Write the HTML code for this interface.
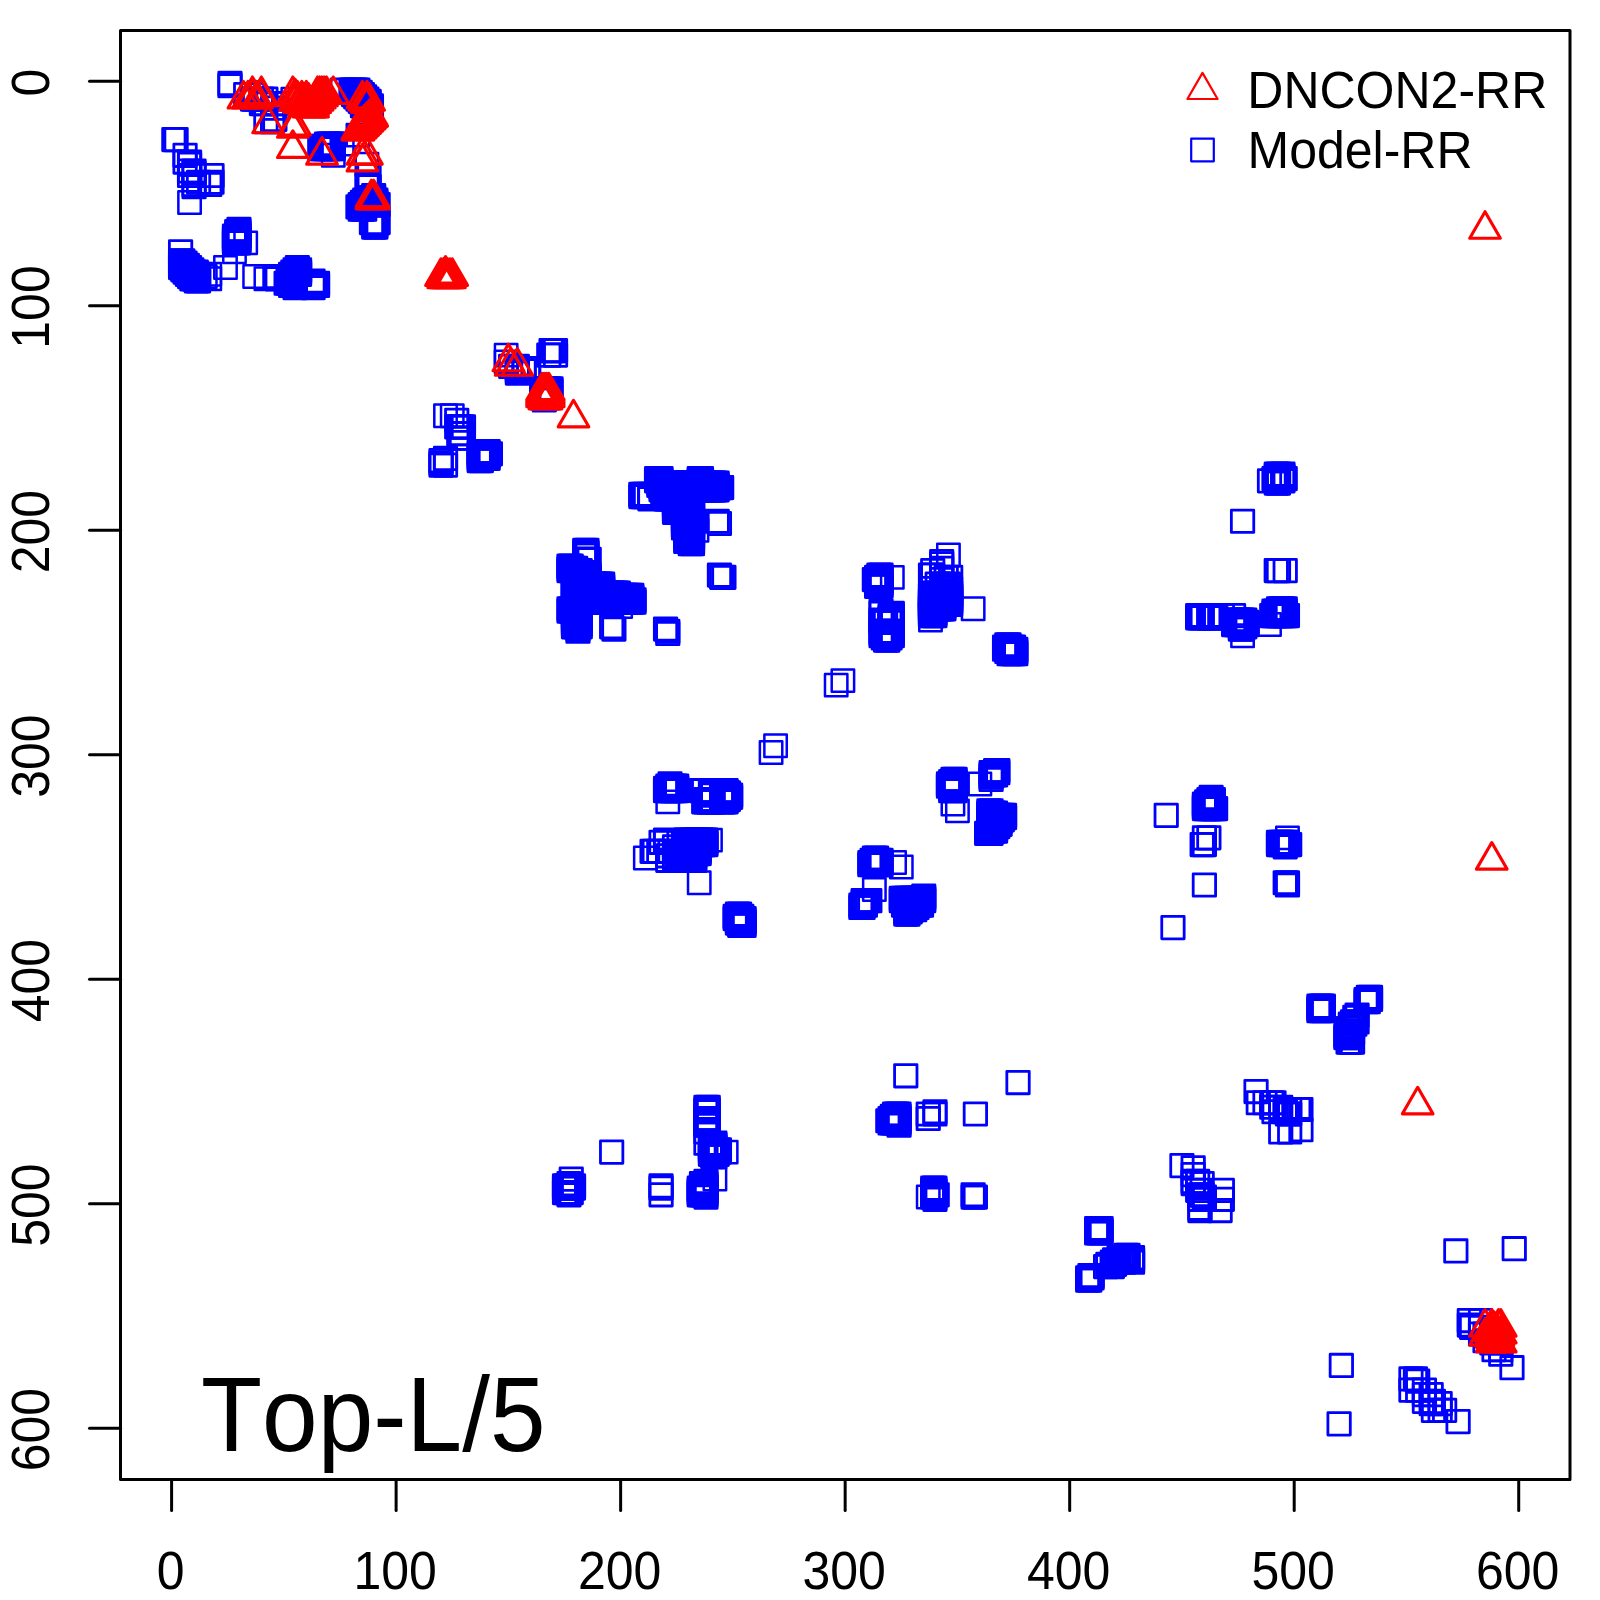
<!DOCTYPE html>
<html><head><meta charset="utf-8"><title>Top-L/5</title>
<style>
html,body{margin:0;padding:0;background:#fff;}
svg{display:block}
text{font-family:"Liberation Sans",sans-serif;fill:#000;font-kerning:none;font-size:50px}
.sq rect{fill:none;stroke:#0000ff;stroke-width:2.8;stroke-linejoin:round}
.sq.tn rect{stroke-width:2.5}
.tr path{fill:none;stroke:#ff0000;stroke-width:3.1;stroke-linejoin:round}
.tr.tk path{stroke-width:4.6}
.ax{stroke:#000;stroke-width:3;fill:none;stroke-linecap:round}
</style></head><body>
<svg width="1600" height="1600" viewBox="0 0 1600 1600">
<rect x="0" y="0" width="1600" height="1600" fill="#ffffff"/>

<g class="sq">
<rect x="162.65" y="128.38" width="22.4" height="22.4"/>
<rect x="164.89" y="128.38" width="22.4" height="22.4"/>
<rect x="169.38" y="240.64" width="22.4" height="22.4"/>
<rect x="169.38" y="249.62" width="22.4" height="22.4"/>
<rect x="169.38" y="251.86" width="22.4" height="22.4"/>
<rect x="169.38" y="254.11" width="22.4" height="22.4"/>
<rect x="169.38" y="256.35" width="22.4" height="22.4"/>
<rect x="171.63" y="249.62" width="22.4" height="22.4"/>
<rect x="171.63" y="251.86" width="22.4" height="22.4"/>
<rect x="171.63" y="254.11" width="22.4" height="22.4"/>
<rect x="171.63" y="256.35" width="22.4" height="22.4"/>
<rect x="171.63" y="258.60" width="22.4" height="22.4"/>
<rect x="173.87" y="144.09" width="22.4" height="22.4"/>
<rect x="173.87" y="150.83" width="22.4" height="22.4"/>
<rect x="173.87" y="251.86" width="22.4" height="22.4"/>
<rect x="173.87" y="254.11" width="22.4" height="22.4"/>
<rect x="173.87" y="256.35" width="22.4" height="22.4"/>
<rect x="173.87" y="258.60" width="22.4" height="22.4"/>
<rect x="173.87" y="260.84" width="22.4" height="22.4"/>
<rect x="176.12" y="254.11" width="22.4" height="22.4"/>
<rect x="176.12" y="256.35" width="22.4" height="22.4"/>
<rect x="176.12" y="258.60" width="22.4" height="22.4"/>
<rect x="176.12" y="260.84" width="22.4" height="22.4"/>
<rect x="176.12" y="263.09" width="22.4" height="22.4"/>
<rect x="178.36" y="150.83" width="22.4" height="22.4"/>
<rect x="178.36" y="153.07" width="22.4" height="22.4"/>
<rect x="178.36" y="159.81" width="22.4" height="22.4"/>
<rect x="178.36" y="164.30" width="22.4" height="22.4"/>
<rect x="178.36" y="256.35" width="22.4" height="22.4"/>
<rect x="178.36" y="258.60" width="22.4" height="22.4"/>
<rect x="178.36" y="260.84" width="22.4" height="22.4"/>
<rect x="178.36" y="263.09" width="22.4" height="22.4"/>
<rect x="178.36" y="265.33" width="22.4" height="22.4"/>
<rect x="180.61" y="258.60" width="22.4" height="22.4"/>
<rect x="180.61" y="260.84" width="22.4" height="22.4"/>
<rect x="180.61" y="263.09" width="22.4" height="22.4"/>
<rect x="180.61" y="265.33" width="22.4" height="22.4"/>
<rect x="180.61" y="267.58" width="22.4" height="22.4"/>
<rect x="182.85" y="159.81" width="22.4" height="22.4"/>
<rect x="182.85" y="162.05" width="22.4" height="22.4"/>
<rect x="182.85" y="173.28" width="22.4" height="22.4"/>
<rect x="182.85" y="175.52" width="22.4" height="22.4"/>
<rect x="182.85" y="260.84" width="22.4" height="22.4"/>
<rect x="182.85" y="263.09" width="22.4" height="22.4"/>
<rect x="182.85" y="265.33" width="22.4" height="22.4"/>
<rect x="182.85" y="267.58" width="22.4" height="22.4"/>
<rect x="185.10" y="260.84" width="22.4" height="22.4"/>
<rect x="185.10" y="263.09" width="22.4" height="22.4"/>
<rect x="185.10" y="265.33" width="22.4" height="22.4"/>
<rect x="185.10" y="267.58" width="22.4" height="22.4"/>
<rect x="185.10" y="269.82" width="22.4" height="22.4"/>
<rect x="187.34" y="171.03" width="22.4" height="22.4"/>
<rect x="187.34" y="263.09" width="22.4" height="22.4"/>
<rect x="187.34" y="265.33" width="22.4" height="22.4"/>
<rect x="187.34" y="267.58" width="22.4" height="22.4"/>
<rect x="187.34" y="269.82" width="22.4" height="22.4"/>
<rect x="198.57" y="173.28" width="22.4" height="22.4"/>
<rect x="200.81" y="164.30" width="22.4" height="22.4"/>
<rect x="200.81" y="171.03" width="22.4" height="22.4"/>
<rect x="218.78" y="72.25" width="22.4" height="22.4"/>
<rect x="218.78" y="74.49" width="22.4" height="22.4"/>
<rect x="223.27" y="224.92" width="22.4" height="22.4"/>
<rect x="223.27" y="227.16" width="22.4" height="22.4"/>
<rect x="223.27" y="229.41" width="22.4" height="22.4"/>
<rect x="223.27" y="231.65" width="22.4" height="22.4"/>
<rect x="225.51" y="220.43" width="22.4" height="22.4"/>
<rect x="225.51" y="222.67" width="22.4" height="22.4"/>
<rect x="225.51" y="224.92" width="22.4" height="22.4"/>
<rect x="225.51" y="227.16" width="22.4" height="22.4"/>
<rect x="225.51" y="229.41" width="22.4" height="22.4"/>
<rect x="225.51" y="231.65" width="22.4" height="22.4"/>
<rect x="227.76" y="218.18" width="22.4" height="22.4"/>
<rect x="227.76" y="220.43" width="22.4" height="22.4"/>
<rect x="227.76" y="222.67" width="22.4" height="22.4"/>
<rect x="227.76" y="224.92" width="22.4" height="22.4"/>
<rect x="227.76" y="227.16" width="22.4" height="22.4"/>
<rect x="227.76" y="229.41" width="22.4" height="22.4"/>
<rect x="227.76" y="231.65" width="22.4" height="22.4"/>
<rect x="234.49" y="83.47" width="22.4" height="22.4"/>
<rect x="241.23" y="83.47" width="22.4" height="22.4"/>
<rect x="241.23" y="87.96" width="22.4" height="22.4"/>
<rect x="243.47" y="87.96" width="22.4" height="22.4"/>
<rect x="250.21" y="87.96" width="22.4" height="22.4"/>
<rect x="250.21" y="92.45" width="22.4" height="22.4"/>
<rect x="252.45" y="92.45" width="22.4" height="22.4"/>
<rect x="254.70" y="87.96" width="22.4" height="22.4"/>
<rect x="254.70" y="110.41" width="22.4" height="22.4"/>
<rect x="261.43" y="96.94" width="22.4" height="22.4"/>
<rect x="261.43" y="110.41" width="22.4" height="22.4"/>
<rect x="263.68" y="92.45" width="22.4" height="22.4"/>
<rect x="263.68" y="108.17" width="22.4" height="22.4"/>
<rect x="263.68" y="265.33" width="22.4" height="22.4"/>
<rect x="265.92" y="92.45" width="22.4" height="22.4"/>
<rect x="265.92" y="267.58" width="22.4" height="22.4"/>
<rect x="274.91" y="272.07" width="22.4" height="22.4"/>
<rect x="277.15" y="267.58" width="22.4" height="22.4"/>
<rect x="277.15" y="269.82" width="22.4" height="22.4"/>
<rect x="277.15" y="272.07" width="22.4" height="22.4"/>
<rect x="279.40" y="263.09" width="22.4" height="22.4"/>
<rect x="279.40" y="265.33" width="22.4" height="22.4"/>
<rect x="279.40" y="267.58" width="22.4" height="22.4"/>
<rect x="279.40" y="269.82" width="22.4" height="22.4"/>
<rect x="279.40" y="272.07" width="22.4" height="22.4"/>
<rect x="279.40" y="274.31" width="22.4" height="22.4"/>
<rect x="281.64" y="260.84" width="22.4" height="22.4"/>
<rect x="281.64" y="263.09" width="22.4" height="22.4"/>
<rect x="281.64" y="265.33" width="22.4" height="22.4"/>
<rect x="281.64" y="267.58" width="22.4" height="22.4"/>
<rect x="281.64" y="269.82" width="22.4" height="22.4"/>
<rect x="281.64" y="272.07" width="22.4" height="22.4"/>
<rect x="281.64" y="274.31" width="22.4" height="22.4"/>
<rect x="283.89" y="258.60" width="22.4" height="22.4"/>
<rect x="283.89" y="260.84" width="22.4" height="22.4"/>
<rect x="283.89" y="263.09" width="22.4" height="22.4"/>
<rect x="283.89" y="265.33" width="22.4" height="22.4"/>
<rect x="283.89" y="267.58" width="22.4" height="22.4"/>
<rect x="283.89" y="269.82" width="22.4" height="22.4"/>
<rect x="283.89" y="272.07" width="22.4" height="22.4"/>
<rect x="283.89" y="274.31" width="22.4" height="22.4"/>
<rect x="283.89" y="276.56" width="22.4" height="22.4"/>
<rect x="286.13" y="256.35" width="22.4" height="22.4"/>
<rect x="286.13" y="258.60" width="22.4" height="22.4"/>
<rect x="286.13" y="260.84" width="22.4" height="22.4"/>
<rect x="288.38" y="258.60" width="22.4" height="22.4"/>
<rect x="288.38" y="260.84" width="22.4" height="22.4"/>
<rect x="288.38" y="263.09" width="22.4" height="22.4"/>
<rect x="301.85" y="269.82" width="22.4" height="22.4"/>
<rect x="301.85" y="276.56" width="22.4" height="22.4"/>
<rect x="304.09" y="274.31" width="22.4" height="22.4"/>
<rect x="306.34" y="272.07" width="22.4" height="22.4"/>
<rect x="306.34" y="274.31" width="22.4" height="22.4"/>
<rect x="308.58" y="137.36" width="22.4" height="22.4"/>
<rect x="310.83" y="135.11" width="22.4" height="22.4"/>
<rect x="310.83" y="137.36" width="22.4" height="22.4"/>
<rect x="313.07" y="135.11" width="22.4" height="22.4"/>
<rect x="313.07" y="137.36" width="22.4" height="22.4"/>
<rect x="315.32" y="132.87" width="22.4" height="22.4"/>
<rect x="315.32" y="135.11" width="22.4" height="22.4"/>
<rect x="315.32" y="137.36" width="22.4" height="22.4"/>
<rect x="317.56" y="132.87" width="22.4" height="22.4"/>
<rect x="317.56" y="135.11" width="22.4" height="22.4"/>
<rect x="317.56" y="137.36" width="22.4" height="22.4"/>
<rect x="319.81" y="132.87" width="22.4" height="22.4"/>
<rect x="319.81" y="135.11" width="22.4" height="22.4"/>
<rect x="319.81" y="137.36" width="22.4" height="22.4"/>
<rect x="322.05" y="132.87" width="22.4" height="22.4"/>
<rect x="322.05" y="135.11" width="22.4" height="22.4"/>
<rect x="322.05" y="137.36" width="22.4" height="22.4"/>
<rect x="331.04" y="78.98" width="22.4" height="22.4"/>
<rect x="340.02" y="78.98" width="22.4" height="22.4"/>
<rect x="340.02" y="81.23" width="22.4" height="22.4"/>
<rect x="342.26" y="78.98" width="22.4" height="22.4"/>
<rect x="342.26" y="81.23" width="22.4" height="22.4"/>
<rect x="342.26" y="83.47" width="22.4" height="22.4"/>
<rect x="344.51" y="78.98" width="22.4" height="22.4"/>
<rect x="344.51" y="81.23" width="22.4" height="22.4"/>
<rect x="344.51" y="83.47" width="22.4" height="22.4"/>
<rect x="344.51" y="85.72" width="22.4" height="22.4"/>
<rect x="346.75" y="78.98" width="22.4" height="22.4"/>
<rect x="346.75" y="81.23" width="22.4" height="22.4"/>
<rect x="346.75" y="83.47" width="22.4" height="22.4"/>
<rect x="346.75" y="85.72" width="22.4" height="22.4"/>
<rect x="346.75" y="87.96" width="22.4" height="22.4"/>
<rect x="346.75" y="195.73" width="22.4" height="22.4"/>
<rect x="349.00" y="81.23" width="22.4" height="22.4"/>
<rect x="349.00" y="83.47" width="22.4" height="22.4"/>
<rect x="349.00" y="85.72" width="22.4" height="22.4"/>
<rect x="349.00" y="87.96" width="22.4" height="22.4"/>
<rect x="349.00" y="90.21" width="22.4" height="22.4"/>
<rect x="349.00" y="193.49" width="22.4" height="22.4"/>
<rect x="349.00" y="195.73" width="22.4" height="22.4"/>
<rect x="349.00" y="197.98" width="22.4" height="22.4"/>
<rect x="351.24" y="83.47" width="22.4" height="22.4"/>
<rect x="351.24" y="85.72" width="22.4" height="22.4"/>
<rect x="351.24" y="87.96" width="22.4" height="22.4"/>
<rect x="351.24" y="90.21" width="22.4" height="22.4"/>
<rect x="351.24" y="92.45" width="22.4" height="22.4"/>
<rect x="351.24" y="94.70" width="22.4" height="22.4"/>
<rect x="351.24" y="191.24" width="22.4" height="22.4"/>
<rect x="351.24" y="193.49" width="22.4" height="22.4"/>
<rect x="351.24" y="195.73" width="22.4" height="22.4"/>
<rect x="351.24" y="197.98" width="22.4" height="22.4"/>
<rect x="353.49" y="85.72" width="22.4" height="22.4"/>
<rect x="353.49" y="87.96" width="22.4" height="22.4"/>
<rect x="353.49" y="90.21" width="22.4" height="22.4"/>
<rect x="353.49" y="92.45" width="22.4" height="22.4"/>
<rect x="353.49" y="94.70" width="22.4" height="22.4"/>
<rect x="353.49" y="96.94" width="22.4" height="22.4"/>
<rect x="353.49" y="189.00" width="22.4" height="22.4"/>
<rect x="353.49" y="191.24" width="22.4" height="22.4"/>
<rect x="353.49" y="193.49" width="22.4" height="22.4"/>
<rect x="353.49" y="197.98" width="22.4" height="22.4"/>
<rect x="355.73" y="87.96" width="22.4" height="22.4"/>
<rect x="355.73" y="90.21" width="22.4" height="22.4"/>
<rect x="355.73" y="92.45" width="22.4" height="22.4"/>
<rect x="355.73" y="94.70" width="22.4" height="22.4"/>
<rect x="355.73" y="96.94" width="22.4" height="22.4"/>
<rect x="355.73" y="173.28" width="22.4" height="22.4"/>
<rect x="355.73" y="189.00" width="22.4" height="22.4"/>
<rect x="355.73" y="191.24" width="22.4" height="22.4"/>
<rect x="355.73" y="193.49" width="22.4" height="22.4"/>
<rect x="357.98" y="90.21" width="22.4" height="22.4"/>
<rect x="357.98" y="92.45" width="22.4" height="22.4"/>
<rect x="357.98" y="94.70" width="22.4" height="22.4"/>
<rect x="357.98" y="96.94" width="22.4" height="22.4"/>
<rect x="357.98" y="175.52" width="22.4" height="22.4"/>
<rect x="357.98" y="186.75" width="22.4" height="22.4"/>
<rect x="357.98" y="189.00" width="22.4" height="22.4"/>
<rect x="357.98" y="191.24" width="22.4" height="22.4"/>
<rect x="357.98" y="193.49" width="22.4" height="22.4"/>
<rect x="360.22" y="94.70" width="22.4" height="22.4"/>
<rect x="360.22" y="96.94" width="22.4" height="22.4"/>
<rect x="360.22" y="186.75" width="22.4" height="22.4"/>
<rect x="360.22" y="189.00" width="22.4" height="22.4"/>
<rect x="360.22" y="191.24" width="22.4" height="22.4"/>
<rect x="360.22" y="193.49" width="22.4" height="22.4"/>
<rect x="360.22" y="211.45" width="22.4" height="22.4"/>
<rect x="362.47" y="184.51" width="22.4" height="22.4"/>
<rect x="362.47" y="186.75" width="22.4" height="22.4"/>
<rect x="362.47" y="189.00" width="22.4" height="22.4"/>
<rect x="362.47" y="191.24" width="22.4" height="22.4"/>
<rect x="362.47" y="193.49" width="22.4" height="22.4"/>
<rect x="362.47" y="215.94" width="22.4" height="22.4"/>
<rect x="364.71" y="189.00" width="22.4" height="22.4"/>
<rect x="364.71" y="191.24" width="22.4" height="22.4"/>
<rect x="364.71" y="193.49" width="22.4" height="22.4"/>
<rect x="364.71" y="213.69" width="22.4" height="22.4"/>
<rect x="364.71" y="215.94" width="22.4" height="22.4"/>
<rect x="366.96" y="193.49" width="22.4" height="22.4"/>
<rect x="366.96" y="211.45" width="22.4" height="22.4"/>
<rect x="429.82" y="449.44" width="22.4" height="22.4"/>
<rect x="429.82" y="451.68" width="22.4" height="22.4"/>
<rect x="429.82" y="453.93" width="22.4" height="22.4"/>
<rect x="434.31" y="447.19" width="22.4" height="22.4"/>
<rect x="434.31" y="453.93" width="22.4" height="22.4"/>
<rect x="445.54" y="409.03" width="22.4" height="22.4"/>
<rect x="445.54" y="415.76" width="22.4" height="22.4"/>
<rect x="447.79" y="415.76" width="22.4" height="22.4"/>
<rect x="447.79" y="422.50" width="22.4" height="22.4"/>
<rect x="447.79" y="426.99" width="22.4" height="22.4"/>
<rect x="450.03" y="415.76" width="22.4" height="22.4"/>
<rect x="450.03" y="422.50" width="22.4" height="22.4"/>
<rect x="450.03" y="426.99" width="22.4" height="22.4"/>
<rect x="452.28" y="415.76" width="22.4" height="22.4"/>
<rect x="467.99" y="440.46" width="22.4" height="22.4"/>
<rect x="467.99" y="442.70" width="22.4" height="22.4"/>
<rect x="467.99" y="444.95" width="22.4" height="22.4"/>
<rect x="467.99" y="447.19" width="22.4" height="22.4"/>
<rect x="467.99" y="449.44" width="22.4" height="22.4"/>
<rect x="470.24" y="440.46" width="22.4" height="22.4"/>
<rect x="470.24" y="442.70" width="22.4" height="22.4"/>
<rect x="470.24" y="444.95" width="22.4" height="22.4"/>
<rect x="470.24" y="447.19" width="22.4" height="22.4"/>
<rect x="470.24" y="449.44" width="22.4" height="22.4"/>
<rect x="472.48" y="440.46" width="22.4" height="22.4"/>
<rect x="472.48" y="442.70" width="22.4" height="22.4"/>
<rect x="472.48" y="444.95" width="22.4" height="22.4"/>
<rect x="472.48" y="447.19" width="22.4" height="22.4"/>
<rect x="474.73" y="440.46" width="22.4" height="22.4"/>
<rect x="474.73" y="442.70" width="22.4" height="22.4"/>
<rect x="474.73" y="444.95" width="22.4" height="22.4"/>
<rect x="474.73" y="447.19" width="22.4" height="22.4"/>
<rect x="476.97" y="440.46" width="22.4" height="22.4"/>
<rect x="476.97" y="442.70" width="22.4" height="22.4"/>
<rect x="476.97" y="444.95" width="22.4" height="22.4"/>
<rect x="476.97" y="447.19" width="22.4" height="22.4"/>
<rect x="479.22" y="442.70" width="22.4" height="22.4"/>
<rect x="499.43" y="355.14" width="22.4" height="22.4"/>
<rect x="506.16" y="355.14" width="22.4" height="22.4"/>
<rect x="506.16" y="357.39" width="22.4" height="22.4"/>
<rect x="506.16" y="359.63" width="22.4" height="22.4"/>
<rect x="506.16" y="361.88" width="22.4" height="22.4"/>
<rect x="512.90" y="357.39" width="22.4" height="22.4"/>
<rect x="512.90" y="359.63" width="22.4" height="22.4"/>
<rect x="517.39" y="357.39" width="22.4" height="22.4"/>
<rect x="517.39" y="359.63" width="22.4" height="22.4"/>
<rect x="530.86" y="377.59" width="22.4" height="22.4"/>
<rect x="530.86" y="379.84" width="22.4" height="22.4"/>
<rect x="530.86" y="382.08" width="22.4" height="22.4"/>
<rect x="530.86" y="384.33" width="22.4" height="22.4"/>
<rect x="530.86" y="386.57" width="22.4" height="22.4"/>
<rect x="533.10" y="377.59" width="22.4" height="22.4"/>
<rect x="533.10" y="379.84" width="22.4" height="22.4"/>
<rect x="533.10" y="382.08" width="22.4" height="22.4"/>
<rect x="533.10" y="384.33" width="22.4" height="22.4"/>
<rect x="533.10" y="386.57" width="22.4" height="22.4"/>
<rect x="533.10" y="388.82" width="22.4" height="22.4"/>
<rect x="535.35" y="377.59" width="22.4" height="22.4"/>
<rect x="535.35" y="379.84" width="22.4" height="22.4"/>
<rect x="535.35" y="382.08" width="22.4" height="22.4"/>
<rect x="535.35" y="384.33" width="22.4" height="22.4"/>
<rect x="535.35" y="386.57" width="22.4" height="22.4"/>
<rect x="537.59" y="343.91" width="22.4" height="22.4"/>
<rect x="537.59" y="377.59" width="22.4" height="22.4"/>
<rect x="537.59" y="379.84" width="22.4" height="22.4"/>
<rect x="537.59" y="382.08" width="22.4" height="22.4"/>
<rect x="537.59" y="384.33" width="22.4" height="22.4"/>
<rect x="537.59" y="386.57" width="22.4" height="22.4"/>
<rect x="539.84" y="339.42" width="22.4" height="22.4"/>
<rect x="539.84" y="377.59" width="22.4" height="22.4"/>
<rect x="539.84" y="379.84" width="22.4" height="22.4"/>
<rect x="542.08" y="339.42" width="22.4" height="22.4"/>
<rect x="544.33" y="339.42" width="22.4" height="22.4"/>
<rect x="544.33" y="343.91" width="22.4" height="22.4"/>
<rect x="553.31" y="1174.64" width="22.4" height="22.4"/>
<rect x="553.31" y="1176.88" width="22.4" height="22.4"/>
<rect x="553.31" y="1181.37" width="22.4" height="22.4"/>
<rect x="555.56" y="1174.64" width="22.4" height="22.4"/>
<rect x="555.56" y="1181.37" width="22.4" height="22.4"/>
<rect x="557.80" y="554.96" width="22.4" height="22.4"/>
<rect x="557.80" y="557.21" width="22.4" height="22.4"/>
<rect x="557.80" y="559.45" width="22.4" height="22.4"/>
<rect x="557.80" y="597.62" width="22.4" height="22.4"/>
<rect x="557.80" y="599.87" width="22.4" height="22.4"/>
<rect x="557.80" y="1172.39" width="22.4" height="22.4"/>
<rect x="557.80" y="1174.64" width="22.4" height="22.4"/>
<rect x="557.80" y="1176.88" width="22.4" height="22.4"/>
<rect x="557.80" y="1181.37" width="22.4" height="22.4"/>
<rect x="557.80" y="1183.62" width="22.4" height="22.4"/>
<rect x="560.05" y="554.96" width="22.4" height="22.4"/>
<rect x="560.05" y="557.21" width="22.4" height="22.4"/>
<rect x="560.05" y="559.45" width="22.4" height="22.4"/>
<rect x="560.05" y="597.62" width="22.4" height="22.4"/>
<rect x="560.05" y="599.87" width="22.4" height="22.4"/>
<rect x="560.05" y="1167.90" width="22.4" height="22.4"/>
<rect x="560.05" y="1174.64" width="22.4" height="22.4"/>
<rect x="560.05" y="1181.37" width="22.4" height="22.4"/>
<rect x="562.29" y="557.21" width="22.4" height="22.4"/>
<rect x="562.29" y="559.45" width="22.4" height="22.4"/>
<rect x="562.29" y="561.70" width="22.4" height="22.4"/>
<rect x="562.29" y="563.94" width="22.4" height="22.4"/>
<rect x="562.29" y="566.19" width="22.4" height="22.4"/>
<rect x="562.29" y="568.43" width="22.4" height="22.4"/>
<rect x="562.29" y="570.68" width="22.4" height="22.4"/>
<rect x="562.29" y="572.92" width="22.4" height="22.4"/>
<rect x="562.29" y="575.17" width="22.4" height="22.4"/>
<rect x="562.29" y="577.42" width="22.4" height="22.4"/>
<rect x="562.29" y="579.66" width="22.4" height="22.4"/>
<rect x="562.29" y="581.91" width="22.4" height="22.4"/>
<rect x="562.29" y="584.15" width="22.4" height="22.4"/>
<rect x="562.29" y="586.40" width="22.4" height="22.4"/>
<rect x="562.29" y="588.64" width="22.4" height="22.4"/>
<rect x="562.29" y="590.89" width="22.4" height="22.4"/>
<rect x="562.29" y="593.13" width="22.4" height="22.4"/>
<rect x="562.29" y="595.38" width="22.4" height="22.4"/>
<rect x="562.29" y="597.62" width="22.4" height="22.4"/>
<rect x="562.29" y="599.87" width="22.4" height="22.4"/>
<rect x="562.29" y="602.11" width="22.4" height="22.4"/>
<rect x="562.29" y="604.36" width="22.4" height="22.4"/>
<rect x="562.29" y="606.60" width="22.4" height="22.4"/>
<rect x="562.29" y="608.85" width="22.4" height="22.4"/>
<rect x="562.29" y="611.09" width="22.4" height="22.4"/>
<rect x="562.29" y="613.34" width="22.4" height="22.4"/>
<rect x="562.29" y="615.58" width="22.4" height="22.4"/>
<rect x="562.29" y="1174.64" width="22.4" height="22.4"/>
<rect x="562.29" y="1176.88" width="22.4" height="22.4"/>
<rect x="564.54" y="557.21" width="22.4" height="22.4"/>
<rect x="564.54" y="559.45" width="22.4" height="22.4"/>
<rect x="564.54" y="561.70" width="22.4" height="22.4"/>
<rect x="564.54" y="563.94" width="22.4" height="22.4"/>
<rect x="564.54" y="566.19" width="22.4" height="22.4"/>
<rect x="564.54" y="568.43" width="22.4" height="22.4"/>
<rect x="564.54" y="570.68" width="22.4" height="22.4"/>
<rect x="564.54" y="572.92" width="22.4" height="22.4"/>
<rect x="564.54" y="575.17" width="22.4" height="22.4"/>
<rect x="564.54" y="577.42" width="22.4" height="22.4"/>
<rect x="564.54" y="579.66" width="22.4" height="22.4"/>
<rect x="564.54" y="581.91" width="22.4" height="22.4"/>
<rect x="564.54" y="584.15" width="22.4" height="22.4"/>
<rect x="564.54" y="586.40" width="22.4" height="22.4"/>
<rect x="564.54" y="588.64" width="22.4" height="22.4"/>
<rect x="564.54" y="590.89" width="22.4" height="22.4"/>
<rect x="564.54" y="593.13" width="22.4" height="22.4"/>
<rect x="564.54" y="595.38" width="22.4" height="22.4"/>
<rect x="564.54" y="597.62" width="22.4" height="22.4"/>
<rect x="564.54" y="599.87" width="22.4" height="22.4"/>
<rect x="564.54" y="602.11" width="22.4" height="22.4"/>
<rect x="564.54" y="604.36" width="22.4" height="22.4"/>
<rect x="564.54" y="606.60" width="22.4" height="22.4"/>
<rect x="564.54" y="608.85" width="22.4" height="22.4"/>
<rect x="564.54" y="611.09" width="22.4" height="22.4"/>
<rect x="564.54" y="613.34" width="22.4" height="22.4"/>
<rect x="564.54" y="615.58" width="22.4" height="22.4"/>
<rect x="566.78" y="559.45" width="22.4" height="22.4"/>
<rect x="566.78" y="561.70" width="22.4" height="22.4"/>
<rect x="566.78" y="563.94" width="22.4" height="22.4"/>
<rect x="566.78" y="566.19" width="22.4" height="22.4"/>
<rect x="566.78" y="568.43" width="22.4" height="22.4"/>
<rect x="566.78" y="570.68" width="22.4" height="22.4"/>
<rect x="566.78" y="572.92" width="22.4" height="22.4"/>
<rect x="566.78" y="575.17" width="22.4" height="22.4"/>
<rect x="566.78" y="577.42" width="22.4" height="22.4"/>
<rect x="566.78" y="579.66" width="22.4" height="22.4"/>
<rect x="566.78" y="581.91" width="22.4" height="22.4"/>
<rect x="566.78" y="584.15" width="22.4" height="22.4"/>
<rect x="566.78" y="586.40" width="22.4" height="22.4"/>
<rect x="566.78" y="588.64" width="22.4" height="22.4"/>
<rect x="566.78" y="590.89" width="22.4" height="22.4"/>
<rect x="566.78" y="593.13" width="22.4" height="22.4"/>
<rect x="566.78" y="595.38" width="22.4" height="22.4"/>
<rect x="566.78" y="597.62" width="22.4" height="22.4"/>
<rect x="566.78" y="599.87" width="22.4" height="22.4"/>
<rect x="566.78" y="602.11" width="22.4" height="22.4"/>
<rect x="566.78" y="604.36" width="22.4" height="22.4"/>
<rect x="566.78" y="606.60" width="22.4" height="22.4"/>
<rect x="566.78" y="608.85" width="22.4" height="22.4"/>
<rect x="566.78" y="611.09" width="22.4" height="22.4"/>
<rect x="566.78" y="613.34" width="22.4" height="22.4"/>
<rect x="566.78" y="615.58" width="22.4" height="22.4"/>
<rect x="566.78" y="617.83" width="22.4" height="22.4"/>
<rect x="566.78" y="620.07" width="22.4" height="22.4"/>
<rect x="569.03" y="559.45" width="22.4" height="22.4"/>
<rect x="569.03" y="561.70" width="22.4" height="22.4"/>
<rect x="569.03" y="563.94" width="22.4" height="22.4"/>
<rect x="569.03" y="566.19" width="22.4" height="22.4"/>
<rect x="569.03" y="568.43" width="22.4" height="22.4"/>
<rect x="569.03" y="570.68" width="22.4" height="22.4"/>
<rect x="569.03" y="572.92" width="22.4" height="22.4"/>
<rect x="569.03" y="575.17" width="22.4" height="22.4"/>
<rect x="569.03" y="577.42" width="22.4" height="22.4"/>
<rect x="569.03" y="579.66" width="22.4" height="22.4"/>
<rect x="569.03" y="581.91" width="22.4" height="22.4"/>
<rect x="569.03" y="584.15" width="22.4" height="22.4"/>
<rect x="569.03" y="586.40" width="22.4" height="22.4"/>
<rect x="569.03" y="588.64" width="22.4" height="22.4"/>
<rect x="569.03" y="590.89" width="22.4" height="22.4"/>
<rect x="569.03" y="593.13" width="22.4" height="22.4"/>
<rect x="569.03" y="595.38" width="22.4" height="22.4"/>
<rect x="569.03" y="597.62" width="22.4" height="22.4"/>
<rect x="569.03" y="599.87" width="22.4" height="22.4"/>
<rect x="569.03" y="602.11" width="22.4" height="22.4"/>
<rect x="569.03" y="604.36" width="22.4" height="22.4"/>
<rect x="569.03" y="606.60" width="22.4" height="22.4"/>
<rect x="569.03" y="608.85" width="22.4" height="22.4"/>
<rect x="569.03" y="611.09" width="22.4" height="22.4"/>
<rect x="569.03" y="613.34" width="22.4" height="22.4"/>
<rect x="569.03" y="615.58" width="22.4" height="22.4"/>
<rect x="571.27" y="561.70" width="22.4" height="22.4"/>
<rect x="571.27" y="563.94" width="22.4" height="22.4"/>
<rect x="571.27" y="566.19" width="22.4" height="22.4"/>
<rect x="571.27" y="568.43" width="22.4" height="22.4"/>
<rect x="571.27" y="570.68" width="22.4" height="22.4"/>
<rect x="571.27" y="572.92" width="22.4" height="22.4"/>
<rect x="571.27" y="575.17" width="22.4" height="22.4"/>
<rect x="571.27" y="577.42" width="22.4" height="22.4"/>
<rect x="571.27" y="579.66" width="22.4" height="22.4"/>
<rect x="571.27" y="581.91" width="22.4" height="22.4"/>
<rect x="571.27" y="584.15" width="22.4" height="22.4"/>
<rect x="571.27" y="586.40" width="22.4" height="22.4"/>
<rect x="573.52" y="539.25" width="22.4" height="22.4"/>
<rect x="573.52" y="541.49" width="22.4" height="22.4"/>
<rect x="573.52" y="543.74" width="22.4" height="22.4"/>
<rect x="573.52" y="548.23" width="22.4" height="22.4"/>
<rect x="573.52" y="561.70" width="22.4" height="22.4"/>
<rect x="573.52" y="563.94" width="22.4" height="22.4"/>
<rect x="573.52" y="566.19" width="22.4" height="22.4"/>
<rect x="573.52" y="568.43" width="22.4" height="22.4"/>
<rect x="573.52" y="570.68" width="22.4" height="22.4"/>
<rect x="573.52" y="572.92" width="22.4" height="22.4"/>
<rect x="573.52" y="575.17" width="22.4" height="22.4"/>
<rect x="573.52" y="577.42" width="22.4" height="22.4"/>
<rect x="573.52" y="579.66" width="22.4" height="22.4"/>
<rect x="573.52" y="581.91" width="22.4" height="22.4"/>
<rect x="573.52" y="584.15" width="22.4" height="22.4"/>
<rect x="573.52" y="586.40" width="22.4" height="22.4"/>
<rect x="575.76" y="539.25" width="22.4" height="22.4"/>
<rect x="575.76" y="541.49" width="22.4" height="22.4"/>
<rect x="575.76" y="543.74" width="22.4" height="22.4"/>
<rect x="575.76" y="548.23" width="22.4" height="22.4"/>
<rect x="575.76" y="563.94" width="22.4" height="22.4"/>
<rect x="575.76" y="566.19" width="22.4" height="22.4"/>
<rect x="575.76" y="568.43" width="22.4" height="22.4"/>
<rect x="575.76" y="570.68" width="22.4" height="22.4"/>
<rect x="575.76" y="572.92" width="22.4" height="22.4"/>
<rect x="575.76" y="575.17" width="22.4" height="22.4"/>
<rect x="575.76" y="577.42" width="22.4" height="22.4"/>
<rect x="575.76" y="579.66" width="22.4" height="22.4"/>
<rect x="575.76" y="581.91" width="22.4" height="22.4"/>
<rect x="575.76" y="584.15" width="22.4" height="22.4"/>
<rect x="575.76" y="586.40" width="22.4" height="22.4"/>
<rect x="578.01" y="548.23" width="22.4" height="22.4"/>
<rect x="578.01" y="563.94" width="22.4" height="22.4"/>
<rect x="578.01" y="566.19" width="22.4" height="22.4"/>
<rect x="578.01" y="568.43" width="22.4" height="22.4"/>
<rect x="578.01" y="570.68" width="22.4" height="22.4"/>
<rect x="578.01" y="572.92" width="22.4" height="22.4"/>
<rect x="578.01" y="575.17" width="22.4" height="22.4"/>
<rect x="578.01" y="577.42" width="22.4" height="22.4"/>
<rect x="578.01" y="579.66" width="22.4" height="22.4"/>
<rect x="578.01" y="581.91" width="22.4" height="22.4"/>
<rect x="578.01" y="584.15" width="22.4" height="22.4"/>
<rect x="578.01" y="586.40" width="22.4" height="22.4"/>
<rect x="580.25" y="572.92" width="22.4" height="22.4"/>
<rect x="580.25" y="575.17" width="22.4" height="22.4"/>
<rect x="580.25" y="577.42" width="22.4" height="22.4"/>
<rect x="580.25" y="579.66" width="22.4" height="22.4"/>
<rect x="580.25" y="581.91" width="22.4" height="22.4"/>
<rect x="580.25" y="584.15" width="22.4" height="22.4"/>
<rect x="580.25" y="586.40" width="22.4" height="22.4"/>
<rect x="582.50" y="572.92" width="22.4" height="22.4"/>
<rect x="582.50" y="575.17" width="22.4" height="22.4"/>
<rect x="582.50" y="577.42" width="22.4" height="22.4"/>
<rect x="582.50" y="579.66" width="22.4" height="22.4"/>
<rect x="582.50" y="581.91" width="22.4" height="22.4"/>
<rect x="582.50" y="584.15" width="22.4" height="22.4"/>
<rect x="582.50" y="586.40" width="22.4" height="22.4"/>
<rect x="582.50" y="588.64" width="22.4" height="22.4"/>
<rect x="582.50" y="590.89" width="22.4" height="22.4"/>
<rect x="584.74" y="572.92" width="22.4" height="22.4"/>
<rect x="584.74" y="575.17" width="22.4" height="22.4"/>
<rect x="584.74" y="577.42" width="22.4" height="22.4"/>
<rect x="584.74" y="579.66" width="22.4" height="22.4"/>
<rect x="584.74" y="581.91" width="22.4" height="22.4"/>
<rect x="584.74" y="584.15" width="22.4" height="22.4"/>
<rect x="584.74" y="586.40" width="22.4" height="22.4"/>
<rect x="584.74" y="588.64" width="22.4" height="22.4"/>
<rect x="584.74" y="590.89" width="22.4" height="22.4"/>
<rect x="586.99" y="572.92" width="22.4" height="22.4"/>
<rect x="586.99" y="575.17" width="22.4" height="22.4"/>
<rect x="586.99" y="577.42" width="22.4" height="22.4"/>
<rect x="586.99" y="579.66" width="22.4" height="22.4"/>
<rect x="586.99" y="581.91" width="22.4" height="22.4"/>
<rect x="586.99" y="584.15" width="22.4" height="22.4"/>
<rect x="586.99" y="586.40" width="22.4" height="22.4"/>
<rect x="586.99" y="588.64" width="22.4" height="22.4"/>
<rect x="586.99" y="590.89" width="22.4" height="22.4"/>
<rect x="589.23" y="572.92" width="22.4" height="22.4"/>
<rect x="589.23" y="575.17" width="22.4" height="22.4"/>
<rect x="589.23" y="577.42" width="22.4" height="22.4"/>
<rect x="589.23" y="579.66" width="22.4" height="22.4"/>
<rect x="589.23" y="581.91" width="22.4" height="22.4"/>
<rect x="589.23" y="584.15" width="22.4" height="22.4"/>
<rect x="589.23" y="586.40" width="22.4" height="22.4"/>
<rect x="589.23" y="588.64" width="22.4" height="22.4"/>
<rect x="589.23" y="590.89" width="22.4" height="22.4"/>
<rect x="591.48" y="572.92" width="22.4" height="22.4"/>
<rect x="591.48" y="575.17" width="22.4" height="22.4"/>
<rect x="591.48" y="577.42" width="22.4" height="22.4"/>
<rect x="591.48" y="579.66" width="22.4" height="22.4"/>
<rect x="591.48" y="581.91" width="22.4" height="22.4"/>
<rect x="591.48" y="584.15" width="22.4" height="22.4"/>
<rect x="591.48" y="586.40" width="22.4" height="22.4"/>
<rect x="591.48" y="588.64" width="22.4" height="22.4"/>
<rect x="591.48" y="590.89" width="22.4" height="22.4"/>
<rect x="593.72" y="581.91" width="22.4" height="22.4"/>
<rect x="593.72" y="584.15" width="22.4" height="22.4"/>
<rect x="593.72" y="586.40" width="22.4" height="22.4"/>
<rect x="593.72" y="588.64" width="22.4" height="22.4"/>
<rect x="593.72" y="590.89" width="22.4" height="22.4"/>
<rect x="595.97" y="581.91" width="22.4" height="22.4"/>
<rect x="595.97" y="584.15" width="22.4" height="22.4"/>
<rect x="595.97" y="586.40" width="22.4" height="22.4"/>
<rect x="595.97" y="588.64" width="22.4" height="22.4"/>
<rect x="595.97" y="590.89" width="22.4" height="22.4"/>
<rect x="598.21" y="581.91" width="22.4" height="22.4"/>
<rect x="598.21" y="584.15" width="22.4" height="22.4"/>
<rect x="598.21" y="586.40" width="22.4" height="22.4"/>
<rect x="598.21" y="588.64" width="22.4" height="22.4"/>
<rect x="598.21" y="590.89" width="22.4" height="22.4"/>
<rect x="600.46" y="581.91" width="22.4" height="22.4"/>
<rect x="600.46" y="584.15" width="22.4" height="22.4"/>
<rect x="600.46" y="586.40" width="22.4" height="22.4"/>
<rect x="600.46" y="588.64" width="22.4" height="22.4"/>
<rect x="600.46" y="590.89" width="22.4" height="22.4"/>
<rect x="600.46" y="615.58" width="22.4" height="22.4"/>
<rect x="600.46" y="1140.96" width="22.4" height="22.4"/>
<rect x="602.70" y="581.91" width="22.4" height="22.4"/>
<rect x="602.70" y="584.15" width="22.4" height="22.4"/>
<rect x="602.70" y="586.40" width="22.4" height="22.4"/>
<rect x="602.70" y="588.64" width="22.4" height="22.4"/>
<rect x="602.70" y="590.89" width="22.4" height="22.4"/>
<rect x="602.70" y="617.83" width="22.4" height="22.4"/>
<rect x="604.95" y="581.91" width="22.4" height="22.4"/>
<rect x="604.95" y="584.15" width="22.4" height="22.4"/>
<rect x="604.95" y="586.40" width="22.4" height="22.4"/>
<rect x="604.95" y="588.64" width="22.4" height="22.4"/>
<rect x="604.95" y="590.89" width="22.4" height="22.4"/>
<rect x="607.19" y="581.91" width="22.4" height="22.4"/>
<rect x="607.19" y="584.15" width="22.4" height="22.4"/>
<rect x="607.19" y="586.40" width="22.4" height="22.4"/>
<rect x="607.19" y="588.64" width="22.4" height="22.4"/>
<rect x="607.19" y="590.89" width="22.4" height="22.4"/>
<rect x="609.44" y="584.15" width="22.4" height="22.4"/>
<rect x="609.44" y="586.40" width="22.4" height="22.4"/>
<rect x="609.44" y="588.64" width="22.4" height="22.4"/>
<rect x="609.44" y="590.89" width="22.4" height="22.4"/>
<rect x="611.69" y="584.15" width="22.4" height="22.4"/>
<rect x="611.69" y="586.40" width="22.4" height="22.4"/>
<rect x="611.69" y="588.64" width="22.4" height="22.4"/>
<rect x="611.69" y="590.89" width="22.4" height="22.4"/>
<rect x="613.93" y="584.15" width="22.4" height="22.4"/>
<rect x="613.93" y="586.40" width="22.4" height="22.4"/>
<rect x="613.93" y="588.64" width="22.4" height="22.4"/>
<rect x="613.93" y="590.89" width="22.4" height="22.4"/>
<rect x="616.18" y="584.15" width="22.4" height="22.4"/>
<rect x="616.18" y="586.40" width="22.4" height="22.4"/>
<rect x="616.18" y="588.64" width="22.4" height="22.4"/>
<rect x="616.18" y="590.89" width="22.4" height="22.4"/>
<rect x="618.42" y="584.15" width="22.4" height="22.4"/>
<rect x="618.42" y="586.40" width="22.4" height="22.4"/>
<rect x="618.42" y="588.64" width="22.4" height="22.4"/>
<rect x="618.42" y="590.89" width="22.4" height="22.4"/>
<rect x="620.67" y="584.15" width="22.4" height="22.4"/>
<rect x="620.67" y="586.40" width="22.4" height="22.4"/>
<rect x="620.67" y="588.64" width="22.4" height="22.4"/>
<rect x="620.67" y="590.89" width="22.4" height="22.4"/>
<rect x="622.91" y="588.64" width="22.4" height="22.4"/>
<rect x="622.91" y="590.89" width="22.4" height="22.4"/>
<rect x="629.65" y="483.12" width="22.4" height="22.4"/>
<rect x="629.65" y="485.36" width="22.4" height="22.4"/>
<rect x="631.89" y="483.12" width="22.4" height="22.4"/>
<rect x="631.89" y="485.36" width="22.4" height="22.4"/>
<rect x="634.14" y="483.12" width="22.4" height="22.4"/>
<rect x="634.14" y="485.36" width="22.4" height="22.4"/>
<rect x="638.63" y="483.12" width="22.4" height="22.4"/>
<rect x="638.63" y="485.36" width="22.4" height="22.4"/>
<rect x="638.63" y="487.61" width="22.4" height="22.4"/>
<rect x="640.87" y="840.10" width="22.4" height="22.4"/>
<rect x="643.12" y="840.10" width="22.4" height="22.4"/>
<rect x="645.36" y="467.40" width="22.4" height="22.4"/>
<rect x="645.36" y="469.65" width="22.4" height="22.4"/>
<rect x="647.61" y="467.40" width="22.4" height="22.4"/>
<rect x="647.61" y="469.65" width="22.4" height="22.4"/>
<rect x="647.61" y="471.89" width="22.4" height="22.4"/>
<rect x="647.61" y="474.14" width="22.4" height="22.4"/>
<rect x="647.61" y="840.10" width="22.4" height="22.4"/>
<rect x="649.85" y="467.40" width="22.4" height="22.4"/>
<rect x="649.85" y="469.65" width="22.4" height="22.4"/>
<rect x="649.85" y="471.89" width="22.4" height="22.4"/>
<rect x="649.85" y="474.14" width="22.4" height="22.4"/>
<rect x="649.85" y="476.38" width="22.4" height="22.4"/>
<rect x="649.85" y="478.63" width="22.4" height="22.4"/>
<rect x="649.85" y="831.12" width="22.4" height="22.4"/>
<rect x="649.85" y="1174.64" width="22.4" height="22.4"/>
<rect x="649.85" y="1176.88" width="22.4" height="22.4"/>
<rect x="649.85" y="1183.62" width="22.4" height="22.4"/>
<rect x="652.10" y="471.89" width="22.4" height="22.4"/>
<rect x="652.10" y="474.14" width="22.4" height="22.4"/>
<rect x="652.10" y="476.38" width="22.4" height="22.4"/>
<rect x="652.10" y="478.63" width="22.4" height="22.4"/>
<rect x="652.10" y="480.87" width="22.4" height="22.4"/>
<rect x="652.10" y="483.12" width="22.4" height="22.4"/>
<rect x="654.34" y="471.89" width="22.4" height="22.4"/>
<rect x="654.34" y="474.14" width="22.4" height="22.4"/>
<rect x="654.34" y="476.38" width="22.4" height="22.4"/>
<rect x="654.34" y="478.63" width="22.4" height="22.4"/>
<rect x="654.34" y="480.87" width="22.4" height="22.4"/>
<rect x="654.34" y="483.12" width="22.4" height="22.4"/>
<rect x="654.34" y="485.36" width="22.4" height="22.4"/>
<rect x="654.34" y="487.61" width="22.4" height="22.4"/>
<rect x="654.34" y="617.83" width="22.4" height="22.4"/>
<rect x="654.34" y="777.24" width="22.4" height="22.4"/>
<rect x="654.34" y="779.48" width="22.4" height="22.4"/>
<rect x="654.34" y="828.88" width="22.4" height="22.4"/>
<rect x="654.34" y="831.12" width="22.4" height="22.4"/>
<rect x="656.59" y="471.89" width="22.4" height="22.4"/>
<rect x="656.59" y="474.14" width="22.4" height="22.4"/>
<rect x="656.59" y="476.38" width="22.4" height="22.4"/>
<rect x="656.59" y="478.63" width="22.4" height="22.4"/>
<rect x="656.59" y="480.87" width="22.4" height="22.4"/>
<rect x="656.59" y="483.12" width="22.4" height="22.4"/>
<rect x="656.59" y="485.36" width="22.4" height="22.4"/>
<rect x="656.59" y="487.61" width="22.4" height="22.4"/>
<rect x="656.59" y="620.07" width="22.4" height="22.4"/>
<rect x="656.59" y="622.32" width="22.4" height="22.4"/>
<rect x="656.59" y="774.99" width="22.4" height="22.4"/>
<rect x="656.59" y="777.24" width="22.4" height="22.4"/>
<rect x="656.59" y="779.48" width="22.4" height="22.4"/>
<rect x="656.59" y="844.59" width="22.4" height="22.4"/>
<rect x="656.59" y="849.08" width="22.4" height="22.4"/>
<rect x="658.83" y="471.89" width="22.4" height="22.4"/>
<rect x="658.83" y="474.14" width="22.4" height="22.4"/>
<rect x="658.83" y="476.38" width="22.4" height="22.4"/>
<rect x="658.83" y="478.63" width="22.4" height="22.4"/>
<rect x="658.83" y="480.87" width="22.4" height="22.4"/>
<rect x="658.83" y="483.12" width="22.4" height="22.4"/>
<rect x="658.83" y="485.36" width="22.4" height="22.4"/>
<rect x="658.83" y="487.61" width="22.4" height="22.4"/>
<rect x="658.83" y="772.75" width="22.4" height="22.4"/>
<rect x="658.83" y="774.99" width="22.4" height="22.4"/>
<rect x="658.83" y="777.24" width="22.4" height="22.4"/>
<rect x="658.83" y="779.48" width="22.4" height="22.4"/>
<rect x="658.83" y="840.10" width="22.4" height="22.4"/>
<rect x="661.08" y="471.89" width="22.4" height="22.4"/>
<rect x="661.08" y="474.14" width="22.4" height="22.4"/>
<rect x="661.08" y="476.38" width="22.4" height="22.4"/>
<rect x="661.08" y="478.63" width="22.4" height="22.4"/>
<rect x="661.08" y="480.87" width="22.4" height="22.4"/>
<rect x="661.08" y="483.12" width="22.4" height="22.4"/>
<rect x="661.08" y="485.36" width="22.4" height="22.4"/>
<rect x="661.08" y="487.61" width="22.4" height="22.4"/>
<rect x="661.08" y="774.99" width="22.4" height="22.4"/>
<rect x="661.08" y="777.24" width="22.4" height="22.4"/>
<rect x="661.08" y="779.48" width="22.4" height="22.4"/>
<rect x="663.32" y="471.89" width="22.4" height="22.4"/>
<rect x="663.32" y="474.14" width="22.4" height="22.4"/>
<rect x="663.32" y="476.38" width="22.4" height="22.4"/>
<rect x="663.32" y="478.63" width="22.4" height="22.4"/>
<rect x="663.32" y="480.87" width="22.4" height="22.4"/>
<rect x="663.32" y="483.12" width="22.4" height="22.4"/>
<rect x="663.32" y="485.36" width="22.4" height="22.4"/>
<rect x="663.32" y="487.61" width="22.4" height="22.4"/>
<rect x="663.32" y="489.85" width="22.4" height="22.4"/>
<rect x="663.32" y="492.10" width="22.4" height="22.4"/>
<rect x="663.32" y="494.34" width="22.4" height="22.4"/>
<rect x="663.32" y="496.59" width="22.4" height="22.4"/>
<rect x="663.32" y="498.83" width="22.4" height="22.4"/>
<rect x="663.32" y="501.08" width="22.4" height="22.4"/>
<rect x="663.32" y="774.99" width="22.4" height="22.4"/>
<rect x="663.32" y="777.24" width="22.4" height="22.4"/>
<rect x="663.32" y="779.48" width="22.4" height="22.4"/>
<rect x="663.32" y="835.61" width="22.4" height="22.4"/>
<rect x="663.32" y="846.84" width="22.4" height="22.4"/>
<rect x="665.57" y="471.89" width="22.4" height="22.4"/>
<rect x="665.57" y="474.14" width="22.4" height="22.4"/>
<rect x="665.57" y="476.38" width="22.4" height="22.4"/>
<rect x="665.57" y="478.63" width="22.4" height="22.4"/>
<rect x="665.57" y="480.87" width="22.4" height="22.4"/>
<rect x="665.57" y="483.12" width="22.4" height="22.4"/>
<rect x="665.57" y="485.36" width="22.4" height="22.4"/>
<rect x="665.57" y="487.61" width="22.4" height="22.4"/>
<rect x="665.57" y="489.85" width="22.4" height="22.4"/>
<rect x="665.57" y="492.10" width="22.4" height="22.4"/>
<rect x="665.57" y="494.34" width="22.4" height="22.4"/>
<rect x="665.57" y="496.59" width="22.4" height="22.4"/>
<rect x="665.57" y="498.83" width="22.4" height="22.4"/>
<rect x="665.57" y="501.08" width="22.4" height="22.4"/>
<rect x="665.57" y="774.99" width="22.4" height="22.4"/>
<rect x="665.57" y="777.24" width="22.4" height="22.4"/>
<rect x="665.57" y="779.48" width="22.4" height="22.4"/>
<rect x="665.57" y="842.35" width="22.4" height="22.4"/>
<rect x="667.82" y="471.89" width="22.4" height="22.4"/>
<rect x="667.82" y="474.14" width="22.4" height="22.4"/>
<rect x="667.82" y="476.38" width="22.4" height="22.4"/>
<rect x="667.82" y="478.63" width="22.4" height="22.4"/>
<rect x="667.82" y="480.87" width="22.4" height="22.4"/>
<rect x="667.82" y="483.12" width="22.4" height="22.4"/>
<rect x="667.82" y="485.36" width="22.4" height="22.4"/>
<rect x="667.82" y="487.61" width="22.4" height="22.4"/>
<rect x="667.82" y="489.85" width="22.4" height="22.4"/>
<rect x="667.82" y="492.10" width="22.4" height="22.4"/>
<rect x="667.82" y="494.34" width="22.4" height="22.4"/>
<rect x="667.82" y="496.59" width="22.4" height="22.4"/>
<rect x="667.82" y="498.83" width="22.4" height="22.4"/>
<rect x="667.82" y="501.08" width="22.4" height="22.4"/>
<rect x="667.82" y="831.12" width="22.4" height="22.4"/>
<rect x="667.82" y="849.08" width="22.4" height="22.4"/>
<rect x="670.06" y="471.89" width="22.4" height="22.4"/>
<rect x="670.06" y="474.14" width="22.4" height="22.4"/>
<rect x="670.06" y="476.38" width="22.4" height="22.4"/>
<rect x="670.06" y="478.63" width="22.4" height="22.4"/>
<rect x="670.06" y="480.87" width="22.4" height="22.4"/>
<rect x="670.06" y="483.12" width="22.4" height="22.4"/>
<rect x="670.06" y="485.36" width="22.4" height="22.4"/>
<rect x="670.06" y="487.61" width="22.4" height="22.4"/>
<rect x="670.06" y="489.85" width="22.4" height="22.4"/>
<rect x="670.06" y="492.10" width="22.4" height="22.4"/>
<rect x="670.06" y="494.34" width="22.4" height="22.4"/>
<rect x="670.06" y="496.59" width="22.4" height="22.4"/>
<rect x="670.06" y="498.83" width="22.4" height="22.4"/>
<rect x="670.06" y="501.08" width="22.4" height="22.4"/>
<rect x="672.31" y="471.89" width="22.4" height="22.4"/>
<rect x="672.31" y="474.14" width="22.4" height="22.4"/>
<rect x="672.31" y="476.38" width="22.4" height="22.4"/>
<rect x="672.31" y="478.63" width="22.4" height="22.4"/>
<rect x="672.31" y="480.87" width="22.4" height="22.4"/>
<rect x="672.31" y="483.12" width="22.4" height="22.4"/>
<rect x="672.31" y="485.36" width="22.4" height="22.4"/>
<rect x="672.31" y="487.61" width="22.4" height="22.4"/>
<rect x="672.31" y="489.85" width="22.4" height="22.4"/>
<rect x="672.31" y="492.10" width="22.4" height="22.4"/>
<rect x="672.31" y="494.34" width="22.4" height="22.4"/>
<rect x="672.31" y="496.59" width="22.4" height="22.4"/>
<rect x="672.31" y="498.83" width="22.4" height="22.4"/>
<rect x="672.31" y="501.08" width="22.4" height="22.4"/>
<rect x="672.31" y="503.32" width="22.4" height="22.4"/>
<rect x="672.31" y="505.57" width="22.4" height="22.4"/>
<rect x="672.31" y="507.81" width="22.4" height="22.4"/>
<rect x="672.31" y="510.06" width="22.4" height="22.4"/>
<rect x="672.31" y="512.30" width="22.4" height="22.4"/>
<rect x="672.31" y="514.55" width="22.4" height="22.4"/>
<rect x="672.31" y="516.79" width="22.4" height="22.4"/>
<rect x="672.31" y="835.61" width="22.4" height="22.4"/>
<rect x="672.31" y="837.86" width="22.4" height="22.4"/>
<rect x="672.31" y="844.59" width="22.4" height="22.4"/>
<rect x="672.31" y="846.84" width="22.4" height="22.4"/>
<rect x="672.31" y="849.08" width="22.4" height="22.4"/>
<rect x="674.55" y="471.89" width="22.4" height="22.4"/>
<rect x="674.55" y="474.14" width="22.4" height="22.4"/>
<rect x="674.55" y="476.38" width="22.4" height="22.4"/>
<rect x="674.55" y="478.63" width="22.4" height="22.4"/>
<rect x="674.55" y="480.87" width="22.4" height="22.4"/>
<rect x="674.55" y="483.12" width="22.4" height="22.4"/>
<rect x="674.55" y="485.36" width="22.4" height="22.4"/>
<rect x="674.55" y="487.61" width="22.4" height="22.4"/>
<rect x="674.55" y="489.85" width="22.4" height="22.4"/>
<rect x="674.55" y="492.10" width="22.4" height="22.4"/>
<rect x="674.55" y="494.34" width="22.4" height="22.4"/>
<rect x="674.55" y="496.59" width="22.4" height="22.4"/>
<rect x="674.55" y="498.83" width="22.4" height="22.4"/>
<rect x="674.55" y="501.08" width="22.4" height="22.4"/>
<rect x="674.55" y="503.32" width="22.4" height="22.4"/>
<rect x="674.55" y="505.57" width="22.4" height="22.4"/>
<rect x="674.55" y="507.81" width="22.4" height="22.4"/>
<rect x="674.55" y="510.06" width="22.4" height="22.4"/>
<rect x="674.55" y="512.30" width="22.4" height="22.4"/>
<rect x="674.55" y="514.55" width="22.4" height="22.4"/>
<rect x="674.55" y="516.79" width="22.4" height="22.4"/>
<rect x="674.55" y="519.04" width="22.4" height="22.4"/>
<rect x="674.55" y="521.29" width="22.4" height="22.4"/>
<rect x="674.55" y="523.53" width="22.4" height="22.4"/>
<rect x="674.55" y="525.78" width="22.4" height="22.4"/>
<rect x="674.55" y="528.02" width="22.4" height="22.4"/>
<rect x="674.55" y="530.27" width="22.4" height="22.4"/>
<rect x="674.55" y="828.88" width="22.4" height="22.4"/>
<rect x="674.55" y="831.12" width="22.4" height="22.4"/>
<rect x="674.55" y="833.37" width="22.4" height="22.4"/>
<rect x="674.55" y="835.61" width="22.4" height="22.4"/>
<rect x="674.55" y="837.86" width="22.4" height="22.4"/>
<rect x="674.55" y="840.10" width="22.4" height="22.4"/>
<rect x="674.55" y="842.35" width="22.4" height="22.4"/>
<rect x="674.55" y="844.59" width="22.4" height="22.4"/>
<rect x="674.55" y="846.84" width="22.4" height="22.4"/>
<rect x="674.55" y="849.08" width="22.4" height="22.4"/>
<rect x="676.80" y="471.89" width="22.4" height="22.4"/>
<rect x="676.80" y="474.14" width="22.4" height="22.4"/>
<rect x="676.80" y="476.38" width="22.4" height="22.4"/>
<rect x="676.80" y="478.63" width="22.4" height="22.4"/>
<rect x="676.80" y="480.87" width="22.4" height="22.4"/>
<rect x="676.80" y="483.12" width="22.4" height="22.4"/>
<rect x="676.80" y="485.36" width="22.4" height="22.4"/>
<rect x="676.80" y="487.61" width="22.4" height="22.4"/>
<rect x="676.80" y="489.85" width="22.4" height="22.4"/>
<rect x="676.80" y="492.10" width="22.4" height="22.4"/>
<rect x="676.80" y="494.34" width="22.4" height="22.4"/>
<rect x="676.80" y="496.59" width="22.4" height="22.4"/>
<rect x="676.80" y="498.83" width="22.4" height="22.4"/>
<rect x="676.80" y="501.08" width="22.4" height="22.4"/>
<rect x="676.80" y="503.32" width="22.4" height="22.4"/>
<rect x="676.80" y="505.57" width="22.4" height="22.4"/>
<rect x="676.80" y="507.81" width="22.4" height="22.4"/>
<rect x="676.80" y="510.06" width="22.4" height="22.4"/>
<rect x="676.80" y="512.30" width="22.4" height="22.4"/>
<rect x="676.80" y="514.55" width="22.4" height="22.4"/>
<rect x="676.80" y="516.79" width="22.4" height="22.4"/>
<rect x="676.80" y="519.04" width="22.4" height="22.4"/>
<rect x="676.80" y="521.29" width="22.4" height="22.4"/>
<rect x="676.80" y="523.53" width="22.4" height="22.4"/>
<rect x="676.80" y="525.78" width="22.4" height="22.4"/>
<rect x="676.80" y="528.02" width="22.4" height="22.4"/>
<rect x="676.80" y="530.27" width="22.4" height="22.4"/>
<rect x="676.80" y="828.88" width="22.4" height="22.4"/>
<rect x="676.80" y="831.12" width="22.4" height="22.4"/>
<rect x="676.80" y="833.37" width="22.4" height="22.4"/>
<rect x="676.80" y="835.61" width="22.4" height="22.4"/>
<rect x="676.80" y="837.86" width="22.4" height="22.4"/>
<rect x="676.80" y="840.10" width="22.4" height="22.4"/>
<rect x="676.80" y="842.35" width="22.4" height="22.4"/>
<rect x="676.80" y="844.59" width="22.4" height="22.4"/>
<rect x="676.80" y="846.84" width="22.4" height="22.4"/>
<rect x="676.80" y="849.08" width="22.4" height="22.4"/>
<rect x="679.04" y="471.89" width="22.4" height="22.4"/>
<rect x="679.04" y="474.14" width="22.4" height="22.4"/>
<rect x="679.04" y="476.38" width="22.4" height="22.4"/>
<rect x="679.04" y="478.63" width="22.4" height="22.4"/>
<rect x="679.04" y="492.10" width="22.4" height="22.4"/>
<rect x="679.04" y="494.34" width="22.4" height="22.4"/>
<rect x="679.04" y="496.59" width="22.4" height="22.4"/>
<rect x="679.04" y="498.83" width="22.4" height="22.4"/>
<rect x="679.04" y="501.08" width="22.4" height="22.4"/>
<rect x="679.04" y="503.32" width="22.4" height="22.4"/>
<rect x="679.04" y="505.57" width="22.4" height="22.4"/>
<rect x="679.04" y="507.81" width="22.4" height="22.4"/>
<rect x="679.04" y="510.06" width="22.4" height="22.4"/>
<rect x="679.04" y="512.30" width="22.4" height="22.4"/>
<rect x="679.04" y="514.55" width="22.4" height="22.4"/>
<rect x="679.04" y="516.79" width="22.4" height="22.4"/>
<rect x="679.04" y="519.04" width="22.4" height="22.4"/>
<rect x="679.04" y="521.29" width="22.4" height="22.4"/>
<rect x="679.04" y="523.53" width="22.4" height="22.4"/>
<rect x="679.04" y="525.78" width="22.4" height="22.4"/>
<rect x="679.04" y="528.02" width="22.4" height="22.4"/>
<rect x="679.04" y="530.27" width="22.4" height="22.4"/>
<rect x="679.04" y="532.51" width="22.4" height="22.4"/>
<rect x="679.04" y="828.88" width="22.4" height="22.4"/>
<rect x="679.04" y="831.12" width="22.4" height="22.4"/>
<rect x="679.04" y="833.37" width="22.4" height="22.4"/>
<rect x="679.04" y="835.61" width="22.4" height="22.4"/>
<rect x="679.04" y="837.86" width="22.4" height="22.4"/>
<rect x="679.04" y="840.10" width="22.4" height="22.4"/>
<rect x="679.04" y="842.35" width="22.4" height="22.4"/>
<rect x="679.04" y="844.59" width="22.4" height="22.4"/>
<rect x="679.04" y="846.84" width="22.4" height="22.4"/>
<rect x="679.04" y="849.08" width="22.4" height="22.4"/>
<rect x="681.29" y="471.89" width="22.4" height="22.4"/>
<rect x="681.29" y="474.14" width="22.4" height="22.4"/>
<rect x="681.29" y="476.38" width="22.4" height="22.4"/>
<rect x="681.29" y="478.63" width="22.4" height="22.4"/>
<rect x="681.29" y="492.10" width="22.4" height="22.4"/>
<rect x="681.29" y="494.34" width="22.4" height="22.4"/>
<rect x="681.29" y="496.59" width="22.4" height="22.4"/>
<rect x="681.29" y="498.83" width="22.4" height="22.4"/>
<rect x="681.29" y="501.08" width="22.4" height="22.4"/>
<rect x="681.29" y="503.32" width="22.4" height="22.4"/>
<rect x="681.29" y="505.57" width="22.4" height="22.4"/>
<rect x="681.29" y="507.81" width="22.4" height="22.4"/>
<rect x="681.29" y="510.06" width="22.4" height="22.4"/>
<rect x="681.29" y="512.30" width="22.4" height="22.4"/>
<rect x="681.29" y="514.55" width="22.4" height="22.4"/>
<rect x="681.29" y="516.79" width="22.4" height="22.4"/>
<rect x="681.29" y="519.04" width="22.4" height="22.4"/>
<rect x="681.29" y="521.29" width="22.4" height="22.4"/>
<rect x="681.29" y="523.53" width="22.4" height="22.4"/>
<rect x="681.29" y="525.78" width="22.4" height="22.4"/>
<rect x="681.29" y="528.02" width="22.4" height="22.4"/>
<rect x="681.29" y="530.27" width="22.4" height="22.4"/>
<rect x="681.29" y="532.51" width="22.4" height="22.4"/>
<rect x="681.29" y="828.88" width="22.4" height="22.4"/>
<rect x="681.29" y="831.12" width="22.4" height="22.4"/>
<rect x="681.29" y="833.37" width="22.4" height="22.4"/>
<rect x="681.29" y="835.61" width="22.4" height="22.4"/>
<rect x="681.29" y="837.86" width="22.4" height="22.4"/>
<rect x="681.29" y="840.10" width="22.4" height="22.4"/>
<rect x="681.29" y="842.35" width="22.4" height="22.4"/>
<rect x="681.29" y="844.59" width="22.4" height="22.4"/>
<rect x="681.29" y="846.84" width="22.4" height="22.4"/>
<rect x="681.29" y="849.08" width="22.4" height="22.4"/>
<rect x="683.53" y="471.89" width="22.4" height="22.4"/>
<rect x="683.53" y="474.14" width="22.4" height="22.4"/>
<rect x="683.53" y="476.38" width="22.4" height="22.4"/>
<rect x="683.53" y="478.63" width="22.4" height="22.4"/>
<rect x="683.53" y="828.88" width="22.4" height="22.4"/>
<rect x="683.53" y="831.12" width="22.4" height="22.4"/>
<rect x="683.53" y="833.37" width="22.4" height="22.4"/>
<rect x="683.53" y="835.61" width="22.4" height="22.4"/>
<rect x="683.53" y="837.86" width="22.4" height="22.4"/>
<rect x="683.53" y="840.10" width="22.4" height="22.4"/>
<rect x="683.53" y="842.35" width="22.4" height="22.4"/>
<rect x="683.53" y="844.59" width="22.4" height="22.4"/>
<rect x="683.53" y="846.84" width="22.4" height="22.4"/>
<rect x="683.53" y="849.08" width="22.4" height="22.4"/>
<rect x="685.78" y="471.89" width="22.4" height="22.4"/>
<rect x="685.78" y="474.14" width="22.4" height="22.4"/>
<rect x="685.78" y="476.38" width="22.4" height="22.4"/>
<rect x="685.78" y="478.63" width="22.4" height="22.4"/>
<rect x="685.78" y="828.88" width="22.4" height="22.4"/>
<rect x="685.78" y="831.12" width="22.4" height="22.4"/>
<rect x="685.78" y="833.37" width="22.4" height="22.4"/>
<rect x="685.78" y="835.61" width="22.4" height="22.4"/>
<rect x="685.78" y="837.86" width="22.4" height="22.4"/>
<rect x="685.78" y="840.10" width="22.4" height="22.4"/>
<rect x="685.78" y="842.35" width="22.4" height="22.4"/>
<rect x="688.02" y="467.40" width="22.4" height="22.4"/>
<rect x="688.02" y="469.65" width="22.4" height="22.4"/>
<rect x="688.02" y="471.89" width="22.4" height="22.4"/>
<rect x="688.02" y="474.14" width="22.4" height="22.4"/>
<rect x="688.02" y="476.38" width="22.4" height="22.4"/>
<rect x="688.02" y="478.63" width="22.4" height="22.4"/>
<rect x="688.02" y="828.88" width="22.4" height="22.4"/>
<rect x="688.02" y="831.12" width="22.4" height="22.4"/>
<rect x="688.02" y="833.37" width="22.4" height="22.4"/>
<rect x="688.02" y="835.61" width="22.4" height="22.4"/>
<rect x="688.02" y="837.86" width="22.4" height="22.4"/>
<rect x="688.02" y="840.10" width="22.4" height="22.4"/>
<rect x="688.02" y="842.35" width="22.4" height="22.4"/>
<rect x="688.02" y="1176.88" width="22.4" height="22.4"/>
<rect x="688.02" y="1179.13" width="22.4" height="22.4"/>
<rect x="688.02" y="1181.37" width="22.4" height="22.4"/>
<rect x="688.02" y="1183.62" width="22.4" height="22.4"/>
<rect x="690.27" y="467.40" width="22.4" height="22.4"/>
<rect x="690.27" y="469.65" width="22.4" height="22.4"/>
<rect x="690.27" y="471.89" width="22.4" height="22.4"/>
<rect x="690.27" y="474.14" width="22.4" height="22.4"/>
<rect x="690.27" y="476.38" width="22.4" height="22.4"/>
<rect x="690.27" y="478.63" width="22.4" height="22.4"/>
<rect x="690.27" y="779.48" width="22.4" height="22.4"/>
<rect x="690.27" y="828.88" width="22.4" height="22.4"/>
<rect x="690.27" y="831.12" width="22.4" height="22.4"/>
<rect x="690.27" y="833.37" width="22.4" height="22.4"/>
<rect x="690.27" y="1172.39" width="22.4" height="22.4"/>
<rect x="690.27" y="1174.64" width="22.4" height="22.4"/>
<rect x="690.27" y="1176.88" width="22.4" height="22.4"/>
<rect x="690.27" y="1179.13" width="22.4" height="22.4"/>
<rect x="690.27" y="1181.37" width="22.4" height="22.4"/>
<rect x="690.27" y="1183.62" width="22.4" height="22.4"/>
<rect x="692.51" y="471.89" width="22.4" height="22.4"/>
<rect x="692.51" y="474.14" width="22.4" height="22.4"/>
<rect x="692.51" y="476.38" width="22.4" height="22.4"/>
<rect x="692.51" y="478.63" width="22.4" height="22.4"/>
<rect x="692.51" y="779.48" width="22.4" height="22.4"/>
<rect x="692.51" y="790.71" width="22.4" height="22.4"/>
<rect x="692.51" y="828.88" width="22.4" height="22.4"/>
<rect x="692.51" y="831.12" width="22.4" height="22.4"/>
<rect x="692.51" y="833.37" width="22.4" height="22.4"/>
<rect x="692.51" y="1172.39" width="22.4" height="22.4"/>
<rect x="692.51" y="1174.64" width="22.4" height="22.4"/>
<rect x="692.51" y="1176.88" width="22.4" height="22.4"/>
<rect x="692.51" y="1179.13" width="22.4" height="22.4"/>
<rect x="692.51" y="1181.37" width="22.4" height="22.4"/>
<rect x="692.51" y="1183.62" width="22.4" height="22.4"/>
<rect x="694.76" y="471.89" width="22.4" height="22.4"/>
<rect x="694.76" y="474.14" width="22.4" height="22.4"/>
<rect x="694.76" y="476.38" width="22.4" height="22.4"/>
<rect x="694.76" y="478.63" width="22.4" height="22.4"/>
<rect x="694.76" y="788.46" width="22.4" height="22.4"/>
<rect x="694.76" y="790.71" width="22.4" height="22.4"/>
<rect x="694.76" y="828.88" width="22.4" height="22.4"/>
<rect x="694.76" y="831.12" width="22.4" height="22.4"/>
<rect x="694.76" y="833.37" width="22.4" height="22.4"/>
<rect x="694.76" y="1096.06" width="22.4" height="22.4"/>
<rect x="694.76" y="1098.30" width="22.4" height="22.4"/>
<rect x="694.76" y="1100.55" width="22.4" height="22.4"/>
<rect x="694.76" y="1107.28" width="22.4" height="22.4"/>
<rect x="694.76" y="1109.53" width="22.4" height="22.4"/>
<rect x="694.76" y="1111.77" width="22.4" height="22.4"/>
<rect x="694.76" y="1114.02" width="22.4" height="22.4"/>
<rect x="694.76" y="1120.75" width="22.4" height="22.4"/>
<rect x="694.76" y="1131.98" width="22.4" height="22.4"/>
<rect x="694.76" y="1170.15" width="22.4" height="22.4"/>
<rect x="694.76" y="1172.39" width="22.4" height="22.4"/>
<rect x="694.76" y="1174.64" width="22.4" height="22.4"/>
<rect x="694.76" y="1176.88" width="22.4" height="22.4"/>
<rect x="694.76" y="1179.13" width="22.4" height="22.4"/>
<rect x="694.76" y="1181.37" width="22.4" height="22.4"/>
<rect x="694.76" y="1183.62" width="22.4" height="22.4"/>
<rect x="694.76" y="1185.86" width="22.4" height="22.4"/>
<rect x="697.00" y="471.89" width="22.4" height="22.4"/>
<rect x="697.00" y="474.14" width="22.4" height="22.4"/>
<rect x="697.00" y="476.38" width="22.4" height="22.4"/>
<rect x="697.00" y="478.63" width="22.4" height="22.4"/>
<rect x="697.00" y="788.46" width="22.4" height="22.4"/>
<rect x="697.00" y="790.71" width="22.4" height="22.4"/>
<rect x="697.00" y="1096.06" width="22.4" height="22.4"/>
<rect x="697.00" y="1098.30" width="22.4" height="22.4"/>
<rect x="697.00" y="1100.55" width="22.4" height="22.4"/>
<rect x="697.00" y="1107.28" width="22.4" height="22.4"/>
<rect x="697.00" y="1109.53" width="22.4" height="22.4"/>
<rect x="697.00" y="1111.77" width="22.4" height="22.4"/>
<rect x="697.00" y="1114.02" width="22.4" height="22.4"/>
<rect x="699.25" y="471.89" width="22.4" height="22.4"/>
<rect x="699.25" y="474.14" width="22.4" height="22.4"/>
<rect x="699.25" y="476.38" width="22.4" height="22.4"/>
<rect x="699.25" y="478.63" width="22.4" height="22.4"/>
<rect x="699.25" y="779.48" width="22.4" height="22.4"/>
<rect x="699.25" y="788.46" width="22.4" height="22.4"/>
<rect x="699.25" y="790.71" width="22.4" height="22.4"/>
<rect x="699.25" y="1134.22" width="22.4" height="22.4"/>
<rect x="699.25" y="1136.47" width="22.4" height="22.4"/>
<rect x="699.25" y="1138.72" width="22.4" height="22.4"/>
<rect x="699.25" y="1140.96" width="22.4" height="22.4"/>
<rect x="699.25" y="1143.21" width="22.4" height="22.4"/>
<rect x="701.49" y="471.89" width="22.4" height="22.4"/>
<rect x="701.49" y="474.14" width="22.4" height="22.4"/>
<rect x="701.49" y="476.38" width="22.4" height="22.4"/>
<rect x="701.49" y="478.63" width="22.4" height="22.4"/>
<rect x="701.49" y="779.48" width="22.4" height="22.4"/>
<rect x="701.49" y="781.73" width="22.4" height="22.4"/>
<rect x="701.49" y="783.97" width="22.4" height="22.4"/>
<rect x="701.49" y="788.46" width="22.4" height="22.4"/>
<rect x="701.49" y="790.71" width="22.4" height="22.4"/>
<rect x="701.49" y="1134.22" width="22.4" height="22.4"/>
<rect x="701.49" y="1136.47" width="22.4" height="22.4"/>
<rect x="701.49" y="1138.72" width="22.4" height="22.4"/>
<rect x="701.49" y="1140.96" width="22.4" height="22.4"/>
<rect x="701.49" y="1143.21" width="22.4" height="22.4"/>
<rect x="701.49" y="1145.45" width="22.4" height="22.4"/>
<rect x="703.74" y="471.89" width="22.4" height="22.4"/>
<rect x="703.74" y="474.14" width="22.4" height="22.4"/>
<rect x="703.74" y="476.38" width="22.4" height="22.4"/>
<rect x="703.74" y="478.63" width="22.4" height="22.4"/>
<rect x="703.74" y="1131.98" width="22.4" height="22.4"/>
<rect x="703.74" y="1134.22" width="22.4" height="22.4"/>
<rect x="703.74" y="1136.47" width="22.4" height="22.4"/>
<rect x="703.74" y="1138.72" width="22.4" height="22.4"/>
<rect x="703.74" y="1140.96" width="22.4" height="22.4"/>
<rect x="703.74" y="1143.21" width="22.4" height="22.4"/>
<rect x="703.74" y="1145.45" width="22.4" height="22.4"/>
<rect x="705.98" y="471.89" width="22.4" height="22.4"/>
<rect x="705.98" y="474.14" width="22.4" height="22.4"/>
<rect x="705.98" y="476.38" width="22.4" height="22.4"/>
<rect x="705.98" y="478.63" width="22.4" height="22.4"/>
<rect x="705.98" y="510.06" width="22.4" height="22.4"/>
<rect x="705.98" y="1138.72" width="22.4" height="22.4"/>
<rect x="705.98" y="1140.96" width="22.4" height="22.4"/>
<rect x="705.98" y="1143.21" width="22.4" height="22.4"/>
<rect x="708.23" y="476.38" width="22.4" height="22.4"/>
<rect x="708.23" y="512.30" width="22.4" height="22.4"/>
<rect x="708.23" y="563.94" width="22.4" height="22.4"/>
<rect x="708.23" y="1138.72" width="22.4" height="22.4"/>
<rect x="708.23" y="1140.96" width="22.4" height="22.4"/>
<rect x="710.47" y="476.38" width="22.4" height="22.4"/>
<rect x="710.47" y="566.19" width="22.4" height="22.4"/>
<rect x="710.47" y="779.48" width="22.4" height="22.4"/>
<rect x="710.47" y="783.97" width="22.4" height="22.4"/>
<rect x="710.47" y="786.22" width="22.4" height="22.4"/>
<rect x="710.47" y="790.71" width="22.4" height="22.4"/>
<rect x="712.72" y="566.19" width="22.4" height="22.4"/>
<rect x="712.72" y="779.48" width="22.4" height="22.4"/>
<rect x="712.72" y="790.71" width="22.4" height="22.4"/>
<rect x="714.96" y="779.48" width="22.4" height="22.4"/>
<rect x="714.96" y="790.71" width="22.4" height="22.4"/>
<rect x="717.21" y="781.73" width="22.4" height="22.4"/>
<rect x="717.21" y="788.46" width="22.4" height="22.4"/>
<rect x="719.45" y="783.97" width="22.4" height="22.4"/>
<rect x="719.45" y="786.22" width="22.4" height="22.4"/>
<rect x="723.95" y="905.21" width="22.4" height="22.4"/>
<rect x="723.95" y="907.46" width="22.4" height="22.4"/>
<rect x="726.19" y="902.97" width="22.4" height="22.4"/>
<rect x="726.19" y="905.21" width="22.4" height="22.4"/>
<rect x="726.19" y="907.46" width="22.4" height="22.4"/>
<rect x="726.19" y="909.70" width="22.4" height="22.4"/>
<rect x="726.19" y="911.95" width="22.4" height="22.4"/>
<rect x="728.44" y="902.97" width="22.4" height="22.4"/>
<rect x="728.44" y="905.21" width="22.4" height="22.4"/>
<rect x="728.44" y="907.46" width="22.4" height="22.4"/>
<rect x="728.44" y="909.70" width="22.4" height="22.4"/>
<rect x="728.44" y="911.95" width="22.4" height="22.4"/>
<rect x="728.44" y="914.20" width="22.4" height="22.4"/>
<rect x="730.68" y="905.21" width="22.4" height="22.4"/>
<rect x="730.68" y="907.46" width="22.4" height="22.4"/>
<rect x="730.68" y="909.70" width="22.4" height="22.4"/>
<rect x="730.68" y="911.95" width="22.4" height="22.4"/>
<rect x="730.68" y="914.20" width="22.4" height="22.4"/>
<rect x="732.93" y="907.46" width="22.4" height="22.4"/>
<rect x="732.93" y="909.70" width="22.4" height="22.4"/>
<rect x="732.93" y="911.95" width="22.4" height="22.4"/>
<rect x="732.93" y="914.20" width="22.4" height="22.4"/>
<rect x="849.68" y="893.99" width="22.4" height="22.4"/>
<rect x="849.68" y="896.23" width="22.4" height="22.4"/>
<rect x="851.92" y="889.50" width="22.4" height="22.4"/>
<rect x="851.92" y="891.74" width="22.4" height="22.4"/>
<rect x="851.92" y="893.99" width="22.4" height="22.4"/>
<rect x="851.92" y="896.23" width="22.4" height="22.4"/>
<rect x="854.17" y="889.50" width="22.4" height="22.4"/>
<rect x="854.17" y="891.74" width="22.4" height="22.4"/>
<rect x="854.17" y="893.99" width="22.4" height="22.4"/>
<rect x="856.41" y="889.50" width="22.4" height="22.4"/>
<rect x="858.66" y="851.33" width="22.4" height="22.4"/>
<rect x="858.66" y="853.57" width="22.4" height="22.4"/>
<rect x="858.66" y="889.50" width="22.4" height="22.4"/>
<rect x="860.90" y="849.08" width="22.4" height="22.4"/>
<rect x="860.90" y="851.33" width="22.4" height="22.4"/>
<rect x="860.90" y="853.57" width="22.4" height="22.4"/>
<rect x="863.15" y="568.43" width="22.4" height="22.4"/>
<rect x="863.15" y="846.84" width="22.4" height="22.4"/>
<rect x="863.15" y="849.08" width="22.4" height="22.4"/>
<rect x="863.15" y="851.33" width="22.4" height="22.4"/>
<rect x="863.15" y="853.57" width="22.4" height="22.4"/>
<rect x="865.39" y="566.19" width="22.4" height="22.4"/>
<rect x="865.39" y="568.43" width="22.4" height="22.4"/>
<rect x="865.39" y="570.68" width="22.4" height="22.4"/>
<rect x="865.39" y="572.92" width="22.4" height="22.4"/>
<rect x="865.39" y="575.17" width="22.4" height="22.4"/>
<rect x="865.39" y="846.84" width="22.4" height="22.4"/>
<rect x="865.39" y="849.08" width="22.4" height="22.4"/>
<rect x="865.39" y="851.33" width="22.4" height="22.4"/>
<rect x="865.39" y="853.57" width="22.4" height="22.4"/>
<rect x="867.64" y="563.94" width="22.4" height="22.4"/>
<rect x="867.64" y="566.19" width="22.4" height="22.4"/>
<rect x="867.64" y="568.43" width="22.4" height="22.4"/>
<rect x="867.64" y="570.68" width="22.4" height="22.4"/>
<rect x="867.64" y="572.92" width="22.4" height="22.4"/>
<rect x="867.64" y="575.17" width="22.4" height="22.4"/>
<rect x="867.64" y="849.08" width="22.4" height="22.4"/>
<rect x="867.64" y="851.33" width="22.4" height="22.4"/>
<rect x="867.64" y="853.57" width="22.4" height="22.4"/>
<rect x="869.88" y="563.94" width="22.4" height="22.4"/>
<rect x="869.88" y="566.19" width="22.4" height="22.4"/>
<rect x="869.88" y="568.43" width="22.4" height="22.4"/>
<rect x="869.88" y="570.68" width="22.4" height="22.4"/>
<rect x="869.88" y="572.92" width="22.4" height="22.4"/>
<rect x="869.88" y="575.17" width="22.4" height="22.4"/>
<rect x="869.88" y="599.87" width="22.4" height="22.4"/>
<rect x="869.88" y="602.11" width="22.4" height="22.4"/>
<rect x="869.88" y="608.85" width="22.4" height="22.4"/>
<rect x="869.88" y="611.09" width="22.4" height="22.4"/>
<rect x="869.88" y="620.07" width="22.4" height="22.4"/>
<rect x="869.88" y="622.32" width="22.4" height="22.4"/>
<rect x="869.88" y="624.56" width="22.4" height="22.4"/>
<rect x="869.88" y="849.08" width="22.4" height="22.4"/>
<rect x="869.88" y="851.33" width="22.4" height="22.4"/>
<rect x="869.88" y="853.57" width="22.4" height="22.4"/>
<rect x="872.13" y="611.09" width="22.4" height="22.4"/>
<rect x="872.13" y="626.81" width="22.4" height="22.4"/>
<rect x="874.37" y="611.09" width="22.4" height="22.4"/>
<rect x="874.37" y="620.07" width="22.4" height="22.4"/>
<rect x="874.37" y="629.05" width="22.4" height="22.4"/>
<rect x="876.62" y="620.07" width="22.4" height="22.4"/>
<rect x="876.62" y="629.05" width="22.4" height="22.4"/>
<rect x="876.62" y="1109.53" width="22.4" height="22.4"/>
<rect x="878.86" y="604.36" width="22.4" height="22.4"/>
<rect x="878.86" y="606.60" width="22.4" height="22.4"/>
<rect x="878.86" y="608.85" width="22.4" height="22.4"/>
<rect x="878.86" y="611.09" width="22.4" height="22.4"/>
<rect x="878.86" y="626.81" width="22.4" height="22.4"/>
<rect x="878.86" y="1107.28" width="22.4" height="22.4"/>
<rect x="878.86" y="1109.53" width="22.4" height="22.4"/>
<rect x="878.86" y="1111.77" width="22.4" height="22.4"/>
<rect x="881.11" y="602.11" width="22.4" height="22.4"/>
<rect x="881.11" y="604.36" width="22.4" height="22.4"/>
<rect x="881.11" y="606.60" width="22.4" height="22.4"/>
<rect x="881.11" y="608.85" width="22.4" height="22.4"/>
<rect x="881.11" y="611.09" width="22.4" height="22.4"/>
<rect x="881.11" y="620.07" width="22.4" height="22.4"/>
<rect x="881.11" y="622.32" width="22.4" height="22.4"/>
<rect x="881.11" y="624.56" width="22.4" height="22.4"/>
<rect x="881.11" y="1105.04" width="22.4" height="22.4"/>
<rect x="881.11" y="1107.28" width="22.4" height="22.4"/>
<rect x="881.11" y="1109.53" width="22.4" height="22.4"/>
<rect x="881.11" y="1111.77" width="22.4" height="22.4"/>
<rect x="883.35" y="1102.79" width="22.4" height="22.4"/>
<rect x="883.35" y="1105.04" width="22.4" height="22.4"/>
<rect x="883.35" y="1107.28" width="22.4" height="22.4"/>
<rect x="883.35" y="1109.53" width="22.4" height="22.4"/>
<rect x="883.35" y="1111.77" width="22.4" height="22.4"/>
<rect x="885.60" y="1102.79" width="22.4" height="22.4"/>
<rect x="885.60" y="1105.04" width="22.4" height="22.4"/>
<rect x="885.60" y="1107.28" width="22.4" height="22.4"/>
<rect x="885.60" y="1109.53" width="22.4" height="22.4"/>
<rect x="885.60" y="1111.77" width="22.4" height="22.4"/>
<rect x="887.84" y="1102.79" width="22.4" height="22.4"/>
<rect x="887.84" y="1105.04" width="22.4" height="22.4"/>
<rect x="887.84" y="1107.28" width="22.4" height="22.4"/>
<rect x="887.84" y="1109.53" width="22.4" height="22.4"/>
<rect x="887.84" y="1111.77" width="22.4" height="22.4"/>
<rect x="887.84" y="1114.02" width="22.4" height="22.4"/>
<rect x="890.09" y="887.25" width="22.4" height="22.4"/>
<rect x="890.09" y="889.50" width="22.4" height="22.4"/>
<rect x="892.34" y="887.25" width="22.4" height="22.4"/>
<rect x="892.34" y="889.50" width="22.4" height="22.4"/>
<rect x="892.34" y="891.74" width="22.4" height="22.4"/>
<rect x="892.34" y="893.99" width="22.4" height="22.4"/>
<rect x="894.58" y="887.25" width="22.4" height="22.4"/>
<rect x="894.58" y="889.50" width="22.4" height="22.4"/>
<rect x="894.58" y="891.74" width="22.4" height="22.4"/>
<rect x="894.58" y="893.99" width="22.4" height="22.4"/>
<rect x="894.58" y="896.23" width="22.4" height="22.4"/>
<rect x="894.58" y="898.48" width="22.4" height="22.4"/>
<rect x="894.58" y="900.72" width="22.4" height="22.4"/>
<rect x="894.58" y="902.97" width="22.4" height="22.4"/>
<rect x="894.58" y="1064.62" width="22.4" height="22.4"/>
<rect x="896.83" y="887.25" width="22.4" height="22.4"/>
<rect x="896.83" y="889.50" width="22.4" height="22.4"/>
<rect x="896.83" y="891.74" width="22.4" height="22.4"/>
<rect x="896.83" y="893.99" width="22.4" height="22.4"/>
<rect x="896.83" y="896.23" width="22.4" height="22.4"/>
<rect x="896.83" y="898.48" width="22.4" height="22.4"/>
<rect x="896.83" y="900.72" width="22.4" height="22.4"/>
<rect x="896.83" y="902.97" width="22.4" height="22.4"/>
<rect x="899.07" y="887.25" width="22.4" height="22.4"/>
<rect x="899.07" y="889.50" width="22.4" height="22.4"/>
<rect x="899.07" y="891.74" width="22.4" height="22.4"/>
<rect x="899.07" y="893.99" width="22.4" height="22.4"/>
<rect x="899.07" y="896.23" width="22.4" height="22.4"/>
<rect x="899.07" y="898.48" width="22.4" height="22.4"/>
<rect x="899.07" y="900.72" width="22.4" height="22.4"/>
<rect x="901.32" y="887.25" width="22.4" height="22.4"/>
<rect x="901.32" y="889.50" width="22.4" height="22.4"/>
<rect x="901.32" y="891.74" width="22.4" height="22.4"/>
<rect x="901.32" y="893.99" width="22.4" height="22.4"/>
<rect x="901.32" y="896.23" width="22.4" height="22.4"/>
<rect x="901.32" y="898.48" width="22.4" height="22.4"/>
<rect x="903.56" y="887.25" width="22.4" height="22.4"/>
<rect x="903.56" y="889.50" width="22.4" height="22.4"/>
<rect x="903.56" y="891.74" width="22.4" height="22.4"/>
<rect x="903.56" y="893.99" width="22.4" height="22.4"/>
<rect x="903.56" y="896.23" width="22.4" height="22.4"/>
<rect x="903.56" y="898.48" width="22.4" height="22.4"/>
<rect x="905.81" y="887.25" width="22.4" height="22.4"/>
<rect x="905.81" y="889.50" width="22.4" height="22.4"/>
<rect x="905.81" y="891.74" width="22.4" height="22.4"/>
<rect x="905.81" y="893.99" width="22.4" height="22.4"/>
<rect x="905.81" y="896.23" width="22.4" height="22.4"/>
<rect x="908.05" y="887.25" width="22.4" height="22.4"/>
<rect x="908.05" y="889.50" width="22.4" height="22.4"/>
<rect x="908.05" y="891.74" width="22.4" height="22.4"/>
<rect x="908.05" y="893.99" width="22.4" height="22.4"/>
<rect x="910.30" y="887.25" width="22.4" height="22.4"/>
<rect x="910.30" y="889.50" width="22.4" height="22.4"/>
<rect x="910.30" y="891.74" width="22.4" height="22.4"/>
<rect x="910.30" y="893.99" width="22.4" height="22.4"/>
<rect x="912.54" y="885.01" width="22.4" height="22.4"/>
<rect x="912.54" y="887.25" width="22.4" height="22.4"/>
<rect x="912.54" y="889.50" width="22.4" height="22.4"/>
<rect x="917.03" y="1102.79" width="22.4" height="22.4"/>
<rect x="917.03" y="1107.28" width="22.4" height="22.4"/>
<rect x="919.28" y="563.94" width="22.4" height="22.4"/>
<rect x="919.28" y="584.15" width="22.4" height="22.4"/>
<rect x="919.28" y="586.40" width="22.4" height="22.4"/>
<rect x="919.28" y="588.64" width="22.4" height="22.4"/>
<rect x="919.28" y="590.89" width="22.4" height="22.4"/>
<rect x="919.28" y="593.13" width="22.4" height="22.4"/>
<rect x="919.28" y="595.38" width="22.4" height="22.4"/>
<rect x="919.28" y="597.62" width="22.4" height="22.4"/>
<rect x="919.28" y="599.87" width="22.4" height="22.4"/>
<rect x="919.28" y="602.11" width="22.4" height="22.4"/>
<rect x="919.28" y="604.36" width="22.4" height="22.4"/>
<rect x="921.52" y="559.45" width="22.4" height="22.4"/>
<rect x="921.52" y="563.94" width="22.4" height="22.4"/>
<rect x="921.52" y="577.42" width="22.4" height="22.4"/>
<rect x="921.52" y="584.15" width="22.4" height="22.4"/>
<rect x="921.52" y="586.40" width="22.4" height="22.4"/>
<rect x="921.52" y="588.64" width="22.4" height="22.4"/>
<rect x="921.52" y="590.89" width="22.4" height="22.4"/>
<rect x="921.52" y="593.13" width="22.4" height="22.4"/>
<rect x="921.52" y="595.38" width="22.4" height="22.4"/>
<rect x="921.52" y="597.62" width="22.4" height="22.4"/>
<rect x="921.52" y="599.87" width="22.4" height="22.4"/>
<rect x="921.52" y="602.11" width="22.4" height="22.4"/>
<rect x="921.52" y="604.36" width="22.4" height="22.4"/>
<rect x="921.52" y="1176.88" width="22.4" height="22.4"/>
<rect x="921.52" y="1179.13" width="22.4" height="22.4"/>
<rect x="921.52" y="1181.37" width="22.4" height="22.4"/>
<rect x="921.52" y="1183.62" width="22.4" height="22.4"/>
<rect x="921.52" y="1185.86" width="22.4" height="22.4"/>
<rect x="923.77" y="584.15" width="22.4" height="22.4"/>
<rect x="923.77" y="586.40" width="22.4" height="22.4"/>
<rect x="923.77" y="588.64" width="22.4" height="22.4"/>
<rect x="923.77" y="590.89" width="22.4" height="22.4"/>
<rect x="923.77" y="593.13" width="22.4" height="22.4"/>
<rect x="923.77" y="595.38" width="22.4" height="22.4"/>
<rect x="923.77" y="597.62" width="22.4" height="22.4"/>
<rect x="923.77" y="599.87" width="22.4" height="22.4"/>
<rect x="923.77" y="602.11" width="22.4" height="22.4"/>
<rect x="923.77" y="604.36" width="22.4" height="22.4"/>
<rect x="923.77" y="1100.55" width="22.4" height="22.4"/>
<rect x="923.77" y="1102.79" width="22.4" height="22.4"/>
<rect x="923.77" y="1176.88" width="22.4" height="22.4"/>
<rect x="923.77" y="1179.13" width="22.4" height="22.4"/>
<rect x="923.77" y="1181.37" width="22.4" height="22.4"/>
<rect x="923.77" y="1183.62" width="22.4" height="22.4"/>
<rect x="923.77" y="1185.86" width="22.4" height="22.4"/>
<rect x="923.77" y="1188.11" width="22.4" height="22.4"/>
<rect x="926.01" y="572.92" width="22.4" height="22.4"/>
<rect x="926.01" y="581.91" width="22.4" height="22.4"/>
<rect x="926.01" y="584.15" width="22.4" height="22.4"/>
<rect x="926.01" y="586.40" width="22.4" height="22.4"/>
<rect x="926.01" y="588.64" width="22.4" height="22.4"/>
<rect x="926.01" y="590.89" width="22.4" height="22.4"/>
<rect x="926.01" y="593.13" width="22.4" height="22.4"/>
<rect x="926.01" y="595.38" width="22.4" height="22.4"/>
<rect x="926.01" y="597.62" width="22.4" height="22.4"/>
<rect x="926.01" y="1183.62" width="22.4" height="22.4"/>
<rect x="928.26" y="581.91" width="22.4" height="22.4"/>
<rect x="928.26" y="584.15" width="22.4" height="22.4"/>
<rect x="928.26" y="586.40" width="22.4" height="22.4"/>
<rect x="928.26" y="588.64" width="22.4" height="22.4"/>
<rect x="928.26" y="590.89" width="22.4" height="22.4"/>
<rect x="928.26" y="593.13" width="22.4" height="22.4"/>
<rect x="928.26" y="595.38" width="22.4" height="22.4"/>
<rect x="928.26" y="597.62" width="22.4" height="22.4"/>
<rect x="930.50" y="550.47" width="22.4" height="22.4"/>
<rect x="930.50" y="552.72" width="22.4" height="22.4"/>
<rect x="930.50" y="557.21" width="22.4" height="22.4"/>
<rect x="930.50" y="568.43" width="22.4" height="22.4"/>
<rect x="930.50" y="584.15" width="22.4" height="22.4"/>
<rect x="930.50" y="586.40" width="22.4" height="22.4"/>
<rect x="930.50" y="588.64" width="22.4" height="22.4"/>
<rect x="930.50" y="590.89" width="22.4" height="22.4"/>
<rect x="930.50" y="593.13" width="22.4" height="22.4"/>
<rect x="930.50" y="595.38" width="22.4" height="22.4"/>
<rect x="930.50" y="597.62" width="22.4" height="22.4"/>
<rect x="932.75" y="575.17" width="22.4" height="22.4"/>
<rect x="932.75" y="584.15" width="22.4" height="22.4"/>
<rect x="932.75" y="586.40" width="22.4" height="22.4"/>
<rect x="932.75" y="588.64" width="22.4" height="22.4"/>
<rect x="932.75" y="590.89" width="22.4" height="22.4"/>
<rect x="932.75" y="593.13" width="22.4" height="22.4"/>
<rect x="932.75" y="595.38" width="22.4" height="22.4"/>
<rect x="932.75" y="597.62" width="22.4" height="22.4"/>
<rect x="934.99" y="566.19" width="22.4" height="22.4"/>
<rect x="934.99" y="581.91" width="22.4" height="22.4"/>
<rect x="934.99" y="584.15" width="22.4" height="22.4"/>
<rect x="934.99" y="586.40" width="22.4" height="22.4"/>
<rect x="934.99" y="588.64" width="22.4" height="22.4"/>
<rect x="934.99" y="590.89" width="22.4" height="22.4"/>
<rect x="934.99" y="593.13" width="22.4" height="22.4"/>
<rect x="937.24" y="572.92" width="22.4" height="22.4"/>
<rect x="937.24" y="581.91" width="22.4" height="22.4"/>
<rect x="937.24" y="584.15" width="22.4" height="22.4"/>
<rect x="937.24" y="586.40" width="22.4" height="22.4"/>
<rect x="937.24" y="588.64" width="22.4" height="22.4"/>
<rect x="937.24" y="590.89" width="22.4" height="22.4"/>
<rect x="937.24" y="593.13" width="22.4" height="22.4"/>
<rect x="937.24" y="772.75" width="22.4" height="22.4"/>
<rect x="937.24" y="774.99" width="22.4" height="22.4"/>
<rect x="939.48" y="566.19" width="22.4" height="22.4"/>
<rect x="939.48" y="577.42" width="22.4" height="22.4"/>
<rect x="939.48" y="581.91" width="22.4" height="22.4"/>
<rect x="939.48" y="584.15" width="22.4" height="22.4"/>
<rect x="939.48" y="586.40" width="22.4" height="22.4"/>
<rect x="939.48" y="588.64" width="22.4" height="22.4"/>
<rect x="939.48" y="590.89" width="22.4" height="22.4"/>
<rect x="939.48" y="593.13" width="22.4" height="22.4"/>
<rect x="939.48" y="770.50" width="22.4" height="22.4"/>
<rect x="939.48" y="772.75" width="22.4" height="22.4"/>
<rect x="939.48" y="774.99" width="22.4" height="22.4"/>
<rect x="939.48" y="777.24" width="22.4" height="22.4"/>
<rect x="939.48" y="779.48" width="22.4" height="22.4"/>
<rect x="941.73" y="768.26" width="22.4" height="22.4"/>
<rect x="941.73" y="770.50" width="22.4" height="22.4"/>
<rect x="941.73" y="772.75" width="22.4" height="22.4"/>
<rect x="941.73" y="774.99" width="22.4" height="22.4"/>
<rect x="941.73" y="777.24" width="22.4" height="22.4"/>
<rect x="941.73" y="779.48" width="22.4" height="22.4"/>
<rect x="943.97" y="768.26" width="22.4" height="22.4"/>
<rect x="943.97" y="770.50" width="22.4" height="22.4"/>
<rect x="943.97" y="772.75" width="22.4" height="22.4"/>
<rect x="943.97" y="774.99" width="22.4" height="22.4"/>
<rect x="943.97" y="777.24" width="22.4" height="22.4"/>
<rect x="943.97" y="779.48" width="22.4" height="22.4"/>
<rect x="961.94" y="1183.62" width="22.4" height="22.4"/>
<rect x="961.94" y="1185.86" width="22.4" height="22.4"/>
<rect x="964.18" y="1102.79" width="22.4" height="22.4"/>
<rect x="964.18" y="1185.86" width="22.4" height="22.4"/>
<rect x="975.41" y="822.14" width="22.4" height="22.4"/>
<rect x="977.65" y="799.69" width="22.4" height="22.4"/>
<rect x="977.65" y="801.94" width="22.4" height="22.4"/>
<rect x="977.65" y="804.18" width="22.4" height="22.4"/>
<rect x="977.65" y="806.43" width="22.4" height="22.4"/>
<rect x="977.65" y="808.67" width="22.4" height="22.4"/>
<rect x="977.65" y="810.92" width="22.4" height="22.4"/>
<rect x="977.65" y="813.16" width="22.4" height="22.4"/>
<rect x="977.65" y="815.41" width="22.4" height="22.4"/>
<rect x="977.65" y="817.65" width="22.4" height="22.4"/>
<rect x="977.65" y="819.90" width="22.4" height="22.4"/>
<rect x="977.65" y="822.14" width="22.4" height="22.4"/>
<rect x="979.90" y="761.52" width="22.4" height="22.4"/>
<rect x="979.90" y="763.77" width="22.4" height="22.4"/>
<rect x="979.90" y="766.01" width="22.4" height="22.4"/>
<rect x="979.90" y="768.26" width="22.4" height="22.4"/>
<rect x="979.90" y="799.69" width="22.4" height="22.4"/>
<rect x="979.90" y="801.94" width="22.4" height="22.4"/>
<rect x="979.90" y="804.18" width="22.4" height="22.4"/>
<rect x="979.90" y="806.43" width="22.4" height="22.4"/>
<rect x="979.90" y="808.67" width="22.4" height="22.4"/>
<rect x="979.90" y="810.92" width="22.4" height="22.4"/>
<rect x="979.90" y="813.16" width="22.4" height="22.4"/>
<rect x="979.90" y="815.41" width="22.4" height="22.4"/>
<rect x="979.90" y="817.65" width="22.4" height="22.4"/>
<rect x="979.90" y="819.90" width="22.4" height="22.4"/>
<rect x="979.90" y="822.14" width="22.4" height="22.4"/>
<rect x="982.14" y="761.52" width="22.4" height="22.4"/>
<rect x="982.14" y="763.77" width="22.4" height="22.4"/>
<rect x="982.14" y="801.94" width="22.4" height="22.4"/>
<rect x="982.14" y="804.18" width="22.4" height="22.4"/>
<rect x="982.14" y="806.43" width="22.4" height="22.4"/>
<rect x="982.14" y="808.67" width="22.4" height="22.4"/>
<rect x="982.14" y="810.92" width="22.4" height="22.4"/>
<rect x="982.14" y="813.16" width="22.4" height="22.4"/>
<rect x="982.14" y="815.41" width="22.4" height="22.4"/>
<rect x="982.14" y="817.65" width="22.4" height="22.4"/>
<rect x="982.14" y="819.90" width="22.4" height="22.4"/>
<rect x="984.39" y="759.28" width="22.4" height="22.4"/>
<rect x="984.39" y="761.52" width="22.4" height="22.4"/>
<rect x="984.39" y="763.77" width="22.4" height="22.4"/>
<rect x="984.39" y="801.94" width="22.4" height="22.4"/>
<rect x="984.39" y="804.18" width="22.4" height="22.4"/>
<rect x="984.39" y="806.43" width="22.4" height="22.4"/>
<rect x="984.39" y="808.67" width="22.4" height="22.4"/>
<rect x="984.39" y="810.92" width="22.4" height="22.4"/>
<rect x="984.39" y="813.16" width="22.4" height="22.4"/>
<rect x="984.39" y="815.41" width="22.4" height="22.4"/>
<rect x="984.39" y="817.65" width="22.4" height="22.4"/>
<rect x="984.39" y="819.90" width="22.4" height="22.4"/>
<rect x="986.63" y="759.28" width="22.4" height="22.4"/>
<rect x="986.63" y="761.52" width="22.4" height="22.4"/>
<rect x="986.63" y="804.18" width="22.4" height="22.4"/>
<rect x="986.63" y="806.43" width="22.4" height="22.4"/>
<rect x="986.63" y="808.67" width="22.4" height="22.4"/>
<rect x="986.63" y="810.92" width="22.4" height="22.4"/>
<rect x="986.63" y="813.16" width="22.4" height="22.4"/>
<rect x="986.63" y="815.41" width="22.4" height="22.4"/>
<rect x="988.88" y="804.18" width="22.4" height="22.4"/>
<rect x="988.88" y="806.43" width="22.4" height="22.4"/>
<rect x="988.88" y="808.67" width="22.4" height="22.4"/>
<rect x="988.88" y="810.92" width="22.4" height="22.4"/>
<rect x="988.88" y="813.16" width="22.4" height="22.4"/>
<rect x="991.12" y="804.18" width="22.4" height="22.4"/>
<rect x="991.12" y="806.43" width="22.4" height="22.4"/>
<rect x="991.12" y="808.67" width="22.4" height="22.4"/>
<rect x="993.37" y="635.79" width="22.4" height="22.4"/>
<rect x="993.37" y="638.04" width="22.4" height="22.4"/>
<rect x="993.37" y="804.18" width="22.4" height="22.4"/>
<rect x="993.37" y="806.43" width="22.4" height="22.4"/>
<rect x="995.61" y="633.55" width="22.4" height="22.4"/>
<rect x="995.61" y="635.79" width="22.4" height="22.4"/>
<rect x="995.61" y="638.04" width="22.4" height="22.4"/>
<rect x="995.61" y="640.28" width="22.4" height="22.4"/>
<rect x="997.86" y="633.55" width="22.4" height="22.4"/>
<rect x="997.86" y="635.79" width="22.4" height="22.4"/>
<rect x="997.86" y="638.04" width="22.4" height="22.4"/>
<rect x="997.86" y="640.28" width="22.4" height="22.4"/>
<rect x="997.86" y="642.53" width="22.4" height="22.4"/>
<rect x="1000.10" y="635.79" width="22.4" height="22.4"/>
<rect x="1000.10" y="638.04" width="22.4" height="22.4"/>
<rect x="1000.10" y="640.28" width="22.4" height="22.4"/>
<rect x="1000.10" y="642.53" width="22.4" height="22.4"/>
<rect x="1002.35" y="635.79" width="22.4" height="22.4"/>
<rect x="1002.35" y="638.04" width="22.4" height="22.4"/>
<rect x="1002.35" y="640.28" width="22.4" height="22.4"/>
<rect x="1002.35" y="642.53" width="22.4" height="22.4"/>
<rect x="1004.60" y="638.04" width="22.4" height="22.4"/>
<rect x="1004.60" y="640.28" width="22.4" height="22.4"/>
<rect x="1004.60" y="642.53" width="22.4" height="22.4"/>
<rect x="1006.84" y="1071.36" width="22.4" height="22.4"/>
<rect x="1076.44" y="1266.69" width="22.4" height="22.4"/>
<rect x="1076.44" y="1268.94" width="22.4" height="22.4"/>
<rect x="1078.69" y="1264.45" width="22.4" height="22.4"/>
<rect x="1078.69" y="1266.69" width="22.4" height="22.4"/>
<rect x="1078.69" y="1268.94" width="22.4" height="22.4"/>
<rect x="1080.93" y="1264.45" width="22.4" height="22.4"/>
<rect x="1080.93" y="1266.69" width="22.4" height="22.4"/>
<rect x="1085.42" y="1217.30" width="22.4" height="22.4"/>
<rect x="1085.42" y="1219.54" width="22.4" height="22.4"/>
<rect x="1085.42" y="1221.79" width="22.4" height="22.4"/>
<rect x="1087.67" y="1217.30" width="22.4" height="22.4"/>
<rect x="1087.67" y="1219.54" width="22.4" height="22.4"/>
<rect x="1087.67" y="1221.79" width="22.4" height="22.4"/>
<rect x="1089.91" y="1217.30" width="22.4" height="22.4"/>
<rect x="1089.91" y="1219.54" width="22.4" height="22.4"/>
<rect x="1089.91" y="1221.79" width="22.4" height="22.4"/>
<rect x="1094.40" y="1255.47" width="22.4" height="22.4"/>
<rect x="1096.65" y="1253.22" width="22.4" height="22.4"/>
<rect x="1101.14" y="1250.98" width="22.4" height="22.4"/>
<rect x="1101.14" y="1255.47" width="22.4" height="22.4"/>
<rect x="1103.38" y="1248.73" width="22.4" height="22.4"/>
<rect x="1103.38" y="1253.22" width="22.4" height="22.4"/>
<rect x="1105.63" y="1250.98" width="22.4" height="22.4"/>
<rect x="1107.87" y="1246.48" width="22.4" height="22.4"/>
<rect x="1110.12" y="1248.73" width="22.4" height="22.4"/>
<rect x="1112.36" y="1246.48" width="22.4" height="22.4"/>
<rect x="1112.36" y="1250.98" width="22.4" height="22.4"/>
<rect x="1114.61" y="1244.24" width="22.4" height="22.4"/>
<rect x="1114.61" y="1248.73" width="22.4" height="22.4"/>
<rect x="1116.86" y="1244.24" width="22.4" height="22.4"/>
<rect x="1116.86" y="1246.48" width="22.4" height="22.4"/>
<rect x="1121.35" y="1246.48" width="22.4" height="22.4"/>
<rect x="1121.35" y="1248.73" width="22.4" height="22.4"/>
<rect x="1121.35" y="1250.98" width="22.4" height="22.4"/>
<rect x="1155.02" y="804.18" width="22.4" height="22.4"/>
<rect x="1161.76" y="916.44" width="22.4" height="22.4"/>
<rect x="1170.74" y="1154.43" width="22.4" height="22.4"/>
<rect x="1181.97" y="1156.68" width="22.4" height="22.4"/>
<rect x="1181.97" y="1163.41" width="22.4" height="22.4"/>
<rect x="1181.97" y="1170.15" width="22.4" height="22.4"/>
<rect x="1181.97" y="1172.39" width="22.4" height="22.4"/>
<rect x="1186.46" y="604.36" width="22.4" height="22.4"/>
<rect x="1186.46" y="606.60" width="22.4" height="22.4"/>
<rect x="1186.46" y="1170.15" width="22.4" height="22.4"/>
<rect x="1186.46" y="1179.13" width="22.4" height="22.4"/>
<rect x="1188.70" y="604.36" width="22.4" height="22.4"/>
<rect x="1188.70" y="606.60" width="22.4" height="22.4"/>
<rect x="1188.70" y="1183.62" width="22.4" height="22.4"/>
<rect x="1188.70" y="1188.11" width="22.4" height="22.4"/>
<rect x="1188.70" y="1197.09" width="22.4" height="22.4"/>
<rect x="1188.70" y="1199.34" width="22.4" height="22.4"/>
<rect x="1190.95" y="604.36" width="22.4" height="22.4"/>
<rect x="1190.95" y="606.60" width="22.4" height="22.4"/>
<rect x="1190.95" y="833.37" width="22.4" height="22.4"/>
<rect x="1190.95" y="1172.39" width="22.4" height="22.4"/>
<rect x="1190.95" y="1183.62" width="22.4" height="22.4"/>
<rect x="1193.19" y="792.95" width="22.4" height="22.4"/>
<rect x="1193.19" y="795.20" width="22.4" height="22.4"/>
<rect x="1193.19" y="797.44" width="22.4" height="22.4"/>
<rect x="1193.19" y="826.63" width="22.4" height="22.4"/>
<rect x="1193.19" y="833.37" width="22.4" height="22.4"/>
<rect x="1193.19" y="873.78" width="22.4" height="22.4"/>
<rect x="1193.19" y="1185.86" width="22.4" height="22.4"/>
<rect x="1193.19" y="1188.11" width="22.4" height="22.4"/>
<rect x="1195.44" y="790.71" width="22.4" height="22.4"/>
<rect x="1195.44" y="792.95" width="22.4" height="22.4"/>
<rect x="1195.44" y="795.20" width="22.4" height="22.4"/>
<rect x="1195.44" y="797.44" width="22.4" height="22.4"/>
<rect x="1197.68" y="604.36" width="22.4" height="22.4"/>
<rect x="1197.68" y="606.60" width="22.4" height="22.4"/>
<rect x="1197.68" y="788.46" width="22.4" height="22.4"/>
<rect x="1197.68" y="790.71" width="22.4" height="22.4"/>
<rect x="1197.68" y="792.95" width="22.4" height="22.4"/>
<rect x="1197.68" y="795.20" width="22.4" height="22.4"/>
<rect x="1197.68" y="797.44" width="22.4" height="22.4"/>
<rect x="1197.68" y="826.63" width="22.4" height="22.4"/>
<rect x="1199.93" y="604.36" width="22.4" height="22.4"/>
<rect x="1199.93" y="606.60" width="22.4" height="22.4"/>
<rect x="1199.93" y="786.22" width="22.4" height="22.4"/>
<rect x="1199.93" y="788.46" width="22.4" height="22.4"/>
<rect x="1199.93" y="790.71" width="22.4" height="22.4"/>
<rect x="1199.93" y="792.95" width="22.4" height="22.4"/>
<rect x="1199.93" y="795.20" width="22.4" height="22.4"/>
<rect x="1199.93" y="797.44" width="22.4" height="22.4"/>
<rect x="1202.17" y="604.36" width="22.4" height="22.4"/>
<rect x="1202.17" y="606.60" width="22.4" height="22.4"/>
<rect x="1202.17" y="788.46" width="22.4" height="22.4"/>
<rect x="1202.17" y="790.71" width="22.4" height="22.4"/>
<rect x="1202.17" y="792.95" width="22.4" height="22.4"/>
<rect x="1202.17" y="795.20" width="22.4" height="22.4"/>
<rect x="1202.17" y="797.44" width="22.4" height="22.4"/>
<rect x="1204.42" y="604.36" width="22.4" height="22.4"/>
<rect x="1204.42" y="606.60" width="22.4" height="22.4"/>
<rect x="1204.42" y="797.44" width="22.4" height="22.4"/>
<rect x="1208.91" y="1199.34" width="22.4" height="22.4"/>
<rect x="1211.15" y="604.36" width="22.4" height="22.4"/>
<rect x="1211.15" y="1179.13" width="22.4" height="22.4"/>
<rect x="1211.15" y="1188.11" width="22.4" height="22.4"/>
<rect x="1222.38" y="604.36" width="22.4" height="22.4"/>
<rect x="1222.38" y="613.34" width="22.4" height="22.4"/>
<rect x="1224.62" y="608.85" width="22.4" height="22.4"/>
<rect x="1224.62" y="611.09" width="22.4" height="22.4"/>
<rect x="1224.62" y="613.34" width="22.4" height="22.4"/>
<rect x="1226.87" y="608.85" width="22.4" height="22.4"/>
<rect x="1226.87" y="611.09" width="22.4" height="22.4"/>
<rect x="1226.87" y="613.34" width="22.4" height="22.4"/>
<rect x="1229.12" y="608.85" width="22.4" height="22.4"/>
<rect x="1229.12" y="611.09" width="22.4" height="22.4"/>
<rect x="1229.12" y="613.34" width="22.4" height="22.4"/>
<rect x="1229.12" y="615.58" width="22.4" height="22.4"/>
<rect x="1229.12" y="617.83" width="22.4" height="22.4"/>
<rect x="1231.36" y="510.06" width="22.4" height="22.4"/>
<rect x="1231.36" y="608.85" width="22.4" height="22.4"/>
<rect x="1231.36" y="611.09" width="22.4" height="22.4"/>
<rect x="1231.36" y="613.34" width="22.4" height="22.4"/>
<rect x="1231.36" y="615.58" width="22.4" height="22.4"/>
<rect x="1231.36" y="617.83" width="22.4" height="22.4"/>
<rect x="1233.61" y="608.85" width="22.4" height="22.4"/>
<rect x="1233.61" y="611.09" width="22.4" height="22.4"/>
<rect x="1233.61" y="613.34" width="22.4" height="22.4"/>
<rect x="1233.61" y="615.58" width="22.4" height="22.4"/>
<rect x="1235.85" y="611.09" width="22.4" height="22.4"/>
<rect x="1235.85" y="613.34" width="22.4" height="22.4"/>
<rect x="1244.83" y="1080.34" width="22.4" height="22.4"/>
<rect x="1247.08" y="1091.57" width="22.4" height="22.4"/>
<rect x="1253.81" y="1091.57" width="22.4" height="22.4"/>
<rect x="1258.30" y="469.65" width="22.4" height="22.4"/>
<rect x="1260.55" y="604.36" width="22.4" height="22.4"/>
<rect x="1260.55" y="1091.57" width="22.4" height="22.4"/>
<rect x="1260.55" y="1096.06" width="22.4" height="22.4"/>
<rect x="1262.79" y="467.40" width="22.4" height="22.4"/>
<rect x="1262.79" y="599.87" width="22.4" height="22.4"/>
<rect x="1262.79" y="602.11" width="22.4" height="22.4"/>
<rect x="1262.79" y="604.36" width="22.4" height="22.4"/>
<rect x="1262.79" y="1091.57" width="22.4" height="22.4"/>
<rect x="1262.79" y="1100.55" width="22.4" height="22.4"/>
<rect x="1265.04" y="462.91" width="22.4" height="22.4"/>
<rect x="1265.04" y="465.16" width="22.4" height="22.4"/>
<rect x="1265.04" y="467.40" width="22.4" height="22.4"/>
<rect x="1265.04" y="469.65" width="22.4" height="22.4"/>
<rect x="1265.04" y="471.89" width="22.4" height="22.4"/>
<rect x="1265.04" y="559.45" width="22.4" height="22.4"/>
<rect x="1265.04" y="599.87" width="22.4" height="22.4"/>
<rect x="1265.04" y="602.11" width="22.4" height="22.4"/>
<rect x="1265.04" y="604.36" width="22.4" height="22.4"/>
<rect x="1267.28" y="462.91" width="22.4" height="22.4"/>
<rect x="1267.28" y="467.40" width="22.4" height="22.4"/>
<rect x="1267.28" y="471.89" width="22.4" height="22.4"/>
<rect x="1267.28" y="559.45" width="22.4" height="22.4"/>
<rect x="1267.28" y="597.62" width="22.4" height="22.4"/>
<rect x="1267.28" y="599.87" width="22.4" height="22.4"/>
<rect x="1267.28" y="602.11" width="22.4" height="22.4"/>
<rect x="1267.28" y="604.36" width="22.4" height="22.4"/>
<rect x="1267.28" y="831.12" width="22.4" height="22.4"/>
<rect x="1267.28" y="833.37" width="22.4" height="22.4"/>
<rect x="1269.53" y="597.62" width="22.4" height="22.4"/>
<rect x="1269.53" y="599.87" width="22.4" height="22.4"/>
<rect x="1269.53" y="602.11" width="22.4" height="22.4"/>
<rect x="1269.53" y="604.36" width="22.4" height="22.4"/>
<rect x="1269.53" y="831.12" width="22.4" height="22.4"/>
<rect x="1269.53" y="833.37" width="22.4" height="22.4"/>
<rect x="1269.53" y="1096.06" width="22.4" height="22.4"/>
<rect x="1269.53" y="1120.75" width="22.4" height="22.4"/>
<rect x="1271.77" y="462.91" width="22.4" height="22.4"/>
<rect x="1271.77" y="465.16" width="22.4" height="22.4"/>
<rect x="1271.77" y="467.40" width="22.4" height="22.4"/>
<rect x="1271.77" y="469.65" width="22.4" height="22.4"/>
<rect x="1271.77" y="597.62" width="22.4" height="22.4"/>
<rect x="1271.77" y="599.87" width="22.4" height="22.4"/>
<rect x="1271.77" y="602.11" width="22.4" height="22.4"/>
<rect x="1271.77" y="604.36" width="22.4" height="22.4"/>
<rect x="1271.77" y="831.12" width="22.4" height="22.4"/>
<rect x="1271.77" y="833.37" width="22.4" height="22.4"/>
<rect x="1274.02" y="467.40" width="22.4" height="22.4"/>
<rect x="1274.02" y="559.45" width="22.4" height="22.4"/>
<rect x="1274.02" y="597.62" width="22.4" height="22.4"/>
<rect x="1274.02" y="599.87" width="22.4" height="22.4"/>
<rect x="1274.02" y="602.11" width="22.4" height="22.4"/>
<rect x="1274.02" y="604.36" width="22.4" height="22.4"/>
<rect x="1274.02" y="831.12" width="22.4" height="22.4"/>
<rect x="1274.02" y="833.37" width="22.4" height="22.4"/>
<rect x="1274.02" y="835.61" width="22.4" height="22.4"/>
<rect x="1274.02" y="871.54" width="22.4" height="22.4"/>
<rect x="1274.02" y="1098.30" width="22.4" height="22.4"/>
<rect x="1274.02" y="1100.55" width="22.4" height="22.4"/>
<rect x="1276.26" y="604.36" width="22.4" height="22.4"/>
<rect x="1276.26" y="831.12" width="22.4" height="22.4"/>
<rect x="1276.26" y="833.37" width="22.4" height="22.4"/>
<rect x="1276.26" y="871.54" width="22.4" height="22.4"/>
<rect x="1276.26" y="873.78" width="22.4" height="22.4"/>
<rect x="1276.26" y="1102.79" width="22.4" height="22.4"/>
<rect x="1278.51" y="833.37" width="22.4" height="22.4"/>
<rect x="1278.51" y="1098.30" width="22.4" height="22.4"/>
<rect x="1278.51" y="1102.79" width="22.4" height="22.4"/>
<rect x="1278.51" y="1120.75" width="22.4" height="22.4"/>
<rect x="1287.49" y="1098.30" width="22.4" height="22.4"/>
<rect x="1289.74" y="1098.30" width="22.4" height="22.4"/>
<rect x="1289.74" y="1118.51" width="22.4" height="22.4"/>
<rect x="1307.70" y="995.02" width="22.4" height="22.4"/>
<rect x="1307.70" y="997.27" width="22.4" height="22.4"/>
<rect x="1307.70" y="999.51" width="22.4" height="22.4"/>
<rect x="1309.94" y="995.02" width="22.4" height="22.4"/>
<rect x="1309.94" y="997.27" width="22.4" height="22.4"/>
<rect x="1309.94" y="999.51" width="22.4" height="22.4"/>
<rect x="1312.19" y="995.02" width="22.4" height="22.4"/>
<rect x="1312.19" y="997.27" width="22.4" height="22.4"/>
<rect x="1312.19" y="999.51" width="22.4" height="22.4"/>
<rect x="1327.90" y="1412.63" width="22.4" height="22.4"/>
<rect x="1330.15" y="1354.25" width="22.4" height="22.4"/>
<rect x="1334.64" y="1024.21" width="22.4" height="22.4"/>
<rect x="1334.64" y="1026.46" width="22.4" height="22.4"/>
<rect x="1336.88" y="1017.47" width="22.4" height="22.4"/>
<rect x="1336.88" y="1021.96" width="22.4" height="22.4"/>
<rect x="1336.88" y="1026.46" width="22.4" height="22.4"/>
<rect x="1336.88" y="1030.95" width="22.4" height="22.4"/>
<rect x="1339.13" y="1012.98" width="22.4" height="22.4"/>
<rect x="1339.13" y="1019.72" width="22.4" height="22.4"/>
<rect x="1339.13" y="1024.21" width="22.4" height="22.4"/>
<rect x="1339.13" y="1030.95" width="22.4" height="22.4"/>
<rect x="1341.38" y="1010.74" width="22.4" height="22.4"/>
<rect x="1341.38" y="1015.23" width="22.4" height="22.4"/>
<rect x="1341.38" y="1021.96" width="22.4" height="22.4"/>
<rect x="1341.38" y="1030.95" width="22.4" height="22.4"/>
<rect x="1343.62" y="1006.25" width="22.4" height="22.4"/>
<rect x="1343.62" y="1012.98" width="22.4" height="22.4"/>
<rect x="1345.87" y="1004.00" width="22.4" height="22.4"/>
<rect x="1345.87" y="1010.74" width="22.4" height="22.4"/>
<rect x="1354.85" y="988.29" width="22.4" height="22.4"/>
<rect x="1354.85" y="990.53" width="22.4" height="22.4"/>
<rect x="1357.09" y="986.04" width="22.4" height="22.4"/>
<rect x="1357.09" y="988.29" width="22.4" height="22.4"/>
<rect x="1357.09" y="990.53" width="22.4" height="22.4"/>
<rect x="1359.34" y="986.04" width="22.4" height="22.4"/>
<rect x="1359.34" y="988.29" width="22.4" height="22.4"/>
<rect x="1399.75" y="1367.73" width="22.4" height="22.4"/>
<rect x="1399.75" y="1378.95" width="22.4" height="22.4"/>
<rect x="1404.24" y="1367.73" width="22.4" height="22.4"/>
<rect x="1406.49" y="1369.97" width="22.4" height="22.4"/>
<rect x="1406.49" y="1378.95" width="22.4" height="22.4"/>
<rect x="1413.22" y="1378.95" width="22.4" height="22.4"/>
<rect x="1413.22" y="1383.44" width="22.4" height="22.4"/>
<rect x="1413.22" y="1390.18" width="22.4" height="22.4"/>
<rect x="1419.96" y="1383.44" width="22.4" height="22.4"/>
<rect x="1419.96" y="1392.42" width="22.4" height="22.4"/>
<rect x="1422.20" y="1390.18" width="22.4" height="22.4"/>
<rect x="1422.20" y="1399.16" width="22.4" height="22.4"/>
<rect x="1428.94" y="1392.42" width="22.4" height="22.4"/>
<rect x="1428.94" y="1399.16" width="22.4" height="22.4"/>
<rect x="1433.43" y="1399.16" width="22.4" height="22.4"/>
<rect x="1444.65" y="1239.75" width="22.4" height="22.4"/>
<rect x="1446.90" y="1410.38" width="22.4" height="22.4"/>
<rect x="1458.13" y="1309.35" width="22.4" height="22.4"/>
<rect x="1458.13" y="1313.84" width="22.4" height="22.4"/>
<rect x="1460.37" y="1316.09" width="22.4" height="22.4"/>
<rect x="1469.35" y="1309.35" width="22.4" height="22.4"/>
<rect x="1469.35" y="1316.09" width="22.4" height="22.4"/>
<rect x="1469.35" y="1322.82" width="22.4" height="22.4"/>
<rect x="1473.84" y="1322.82" width="22.4" height="22.4"/>
<rect x="1473.84" y="1329.56" width="22.4" height="22.4"/>
<rect x="1480.58" y="1322.82" width="22.4" height="22.4"/>
<rect x="1480.58" y="1331.80" width="22.4" height="22.4"/>
<rect x="1482.82" y="1329.56" width="22.4" height="22.4"/>
<rect x="1482.82" y="1338.54" width="22.4" height="22.4"/>
<rect x="1489.56" y="1331.80" width="22.4" height="22.4"/>
<rect x="1489.56" y="1338.54" width="22.4" height="22.4"/>
<rect x="1489.56" y="1343.03" width="22.4" height="22.4"/>
<rect x="1500.78" y="1356.50" width="22.4" height="22.4"/>
<rect x="1503.03" y="1237.50" width="22.4" height="22.4"/>
</g>
<g class="sq tn">
<rect x="178.36" y="191.24" width="22.4" height="22.4"/>
<rect x="194.08" y="265.33" width="22.4" height="22.4"/>
<rect x="198.57" y="263.09" width="22.4" height="22.4"/>
<rect x="198.57" y="267.58" width="22.4" height="22.4"/>
<rect x="214.28" y="256.35" width="22.4" height="22.4"/>
<rect x="223.27" y="240.64" width="22.4" height="22.4"/>
<rect x="234.49" y="231.65" width="22.4" height="22.4"/>
<rect x="243.47" y="265.33" width="22.4" height="22.4"/>
<rect x="254.70" y="267.58" width="22.4" height="22.4"/>
<rect x="281.64" y="87.96" width="22.4" height="22.4"/>
<rect x="322.05" y="144.09" width="22.4" height="22.4"/>
<rect x="331.04" y="132.87" width="22.4" height="22.4"/>
<rect x="346.75" y="123.88" width="22.4" height="22.4"/>
<rect x="353.49" y="108.17" width="22.4" height="22.4"/>
<rect x="355.73" y="103.68" width="22.4" height="22.4"/>
<rect x="355.73" y="153.07" width="22.4" height="22.4"/>
<rect x="357.98" y="108.17" width="22.4" height="22.4"/>
<rect x="357.98" y="164.30" width="22.4" height="22.4"/>
<rect x="434.31" y="404.53" width="22.4" height="22.4"/>
<rect x="441.05" y="404.53" width="22.4" height="22.4"/>
<rect x="494.93" y="343.91" width="22.4" height="22.4"/>
<rect x="494.93" y="350.65" width="22.4" height="22.4"/>
<rect x="609.44" y="595.38" width="22.4" height="22.4"/>
<rect x="634.14" y="846.84" width="22.4" height="22.4"/>
<rect x="656.59" y="790.71" width="22.4" height="22.4"/>
<rect x="685.78" y="519.04" width="22.4" height="22.4"/>
<rect x="688.02" y="871.54" width="22.4" height="22.4"/>
<rect x="699.25" y="828.88" width="22.4" height="22.4"/>
<rect x="703.74" y="1167.90" width="22.4" height="22.4"/>
<rect x="714.96" y="1140.96" width="22.4" height="22.4"/>
<rect x="759.87" y="741.31" width="22.4" height="22.4"/>
<rect x="764.36" y="734.58" width="22.4" height="22.4"/>
<rect x="824.98" y="673.96" width="22.4" height="22.4"/>
<rect x="831.71" y="669.47" width="22.4" height="22.4"/>
<rect x="863.15" y="878.27" width="22.4" height="22.4"/>
<rect x="881.11" y="566.19" width="22.4" height="22.4"/>
<rect x="883.35" y="851.33" width="22.4" height="22.4"/>
<rect x="890.09" y="855.82" width="22.4" height="22.4"/>
<rect x="917.03" y="1185.86" width="22.4" height="22.4"/>
<rect x="919.28" y="608.85" width="22.4" height="22.4"/>
<rect x="937.24" y="543.74" width="22.4" height="22.4"/>
<rect x="941.73" y="792.95" width="22.4" height="22.4"/>
<rect x="946.22" y="799.69" width="22.4" height="22.4"/>
<rect x="961.94" y="597.62" width="22.4" height="22.4"/>
<rect x="968.67" y="772.75" width="22.4" height="22.4"/>
<rect x="1231.36" y="624.56" width="22.4" height="22.4"/>
<rect x="1258.30" y="613.34" width="22.4" height="22.4"/>
<rect x="1276.26" y="826.63" width="22.4" height="22.4"/>
</g>
<g class="tr">
<path d="M1485.04 1309.59L1500.37 1336.14L1469.71 1336.14Z"/>
<path d="M1491.78 1309.59L1507.11 1336.14L1476.45 1336.14Z"/>
<path d="M1498.51 1309.59L1513.84 1336.14L1483.18 1336.14Z"/>
<path d="M1500.76 1309.59L1516.09 1336.14L1485.43 1336.14Z"/>
<path d="M1494.02 1311.83L1509.35 1338.38L1478.69 1338.38Z"/>
<path d="M1489.53 1314.08L1504.86 1340.63L1474.20 1340.63Z"/>
<path d="M1496.27 1314.08L1511.60 1340.63L1480.94 1340.63Z"/>
<path d="M1491.78 1316.32L1507.11 1342.87L1476.45 1342.87Z"/>
<path d="M1500.76 1316.32L1516.09 1342.87L1485.43 1342.87Z"/>
<path d="M1485.04 1318.57L1500.37 1345.12L1469.71 1345.12Z"/>
<path d="M1496.27 1318.57L1511.60 1345.12L1480.94 1345.12Z"/>
<path d="M1498.51 1318.57L1513.84 1345.12L1483.18 1345.12Z"/>
<path d="M1491.78 1320.81L1507.11 1347.36L1476.45 1347.36Z"/>
<path d="M1496.27 1323.06L1511.60 1349.61L1480.94 1349.61Z"/>
<path d="M1491.78 1325.30L1507.11 1351.85L1476.45 1351.85Z"/>
<path d="M1496.27 1325.30L1511.60 1351.85L1480.94 1351.85Z"/>
<path d="M1500.76 1325.30L1516.09 1351.85L1485.43 1351.85Z"/>
<path d="M573.49 400.28L588.82 426.83L558.16 426.83Z"/>
<path d="M508.38 344.15L523.71 370.70L493.05 370.70Z"/>
<path d="M517.36 348.64L532.69 375.19L502.03 375.19Z"/>
<path d="M510.63 348.64L525.95 375.19L495.30 375.19Z"/>
<path d="M445.51 256.59L460.84 283.14L430.19 283.14Z"/>
<path d="M441.02 258.83L456.35 285.38L425.70 285.38Z"/>
<path d="M443.27 258.83L458.60 285.38L427.94 285.38Z"/>
<path d="M445.51 258.83L460.84 285.38L430.19 285.38Z"/>
<path d="M447.76 258.83L463.09 285.38L432.43 285.38Z"/>
<path d="M450.00 258.83L465.33 285.38L434.68 285.38Z"/>
<path d="M452.25 258.83L467.58 285.38L436.92 285.38Z"/>
<path d="M443.27 261.08L458.60 287.63L427.94 287.63Z"/>
<path d="M445.51 261.08L460.84 287.63L430.19 287.63Z"/>
<path d="M447.76 261.08L463.09 287.63L432.43 287.63Z"/>
<path d="M450.00 261.08L465.33 287.63L434.68 287.63Z"/>
<path d="M542.06 373.34L557.39 399.89L526.73 399.89Z"/>
<path d="M542.06 375.58L557.39 402.13L526.73 402.13Z"/>
<path d="M542.06 377.83L557.39 404.38L526.73 404.38Z"/>
<path d="M542.06 380.07L557.39 406.62L526.73 406.62Z"/>
<path d="M544.30 373.34L559.63 399.89L528.97 399.89Z"/>
<path d="M544.30 375.58L559.63 402.13L528.97 402.13Z"/>
<path d="M544.30 377.83L559.63 404.38L528.97 404.38Z"/>
<path d="M544.30 380.07L559.63 406.62L528.97 406.62Z"/>
<path d="M544.30 382.32L559.63 408.87L528.97 408.87Z"/>
<path d="M546.55 373.34L561.88 399.89L531.22 399.89Z"/>
<path d="M546.55 375.58L561.88 402.13L531.22 402.13Z"/>
<path d="M546.55 377.83L561.88 404.38L531.22 404.38Z"/>
<path d="M546.55 380.07L561.88 406.62L531.22 406.62Z"/>
<path d="M546.55 382.32L561.88 408.87L531.22 408.87Z"/>
<path d="M548.79 373.34L564.12 399.89L533.46 399.89Z"/>
<path d="M548.79 375.58L564.12 402.13L533.46 402.13Z"/>
<path d="M548.79 377.83L564.12 404.38L533.46 404.38Z"/>
<path d="M548.79 380.07L564.12 406.62L533.46 406.62Z"/>
<path d="M1485.04 211.68L1500.37 238.23L1469.71 238.23Z"/>
<path d="M1491.78 842.58L1507.11 869.13L1476.45 869.13Z"/>
<path d="M1417.69 1087.31L1433.01 1113.86L1402.36 1113.86Z"/>
<path d="M292.84 130.86L308.17 157.41L277.51 157.41Z"/>
<path d="M322.03 137.59L337.36 164.14L306.70 164.14Z"/>
<path d="M268.14 106.16L283.47 132.71L252.81 132.71Z"/>
<path d="M295.09 108.40L310.41 134.95L279.76 134.95Z"/>
<path d="M292.84 110.65L308.17 137.20L277.51 137.20Z"/>
<path d="M243.45 81.46L258.78 108.01L228.12 108.01Z"/>
<path d="M252.43 76.97L267.76 103.52L237.10 103.52Z"/>
<path d="M261.41 76.97L276.74 103.52L246.08 103.52Z"/>
<path d="M247.94 81.46L263.27 108.01L232.61 108.01Z"/>
<path d="M252.43 79.22L267.76 105.77L237.10 105.77Z"/>
<path d="M261.41 79.22L276.74 105.77L246.08 105.77Z"/>
<path d="M256.92 81.46L272.25 108.01L241.59 108.01Z"/>
<path d="M292.84 76.97L308.17 103.52L277.51 103.52Z"/>
<path d="M317.54 76.97L332.87 103.52L302.21 103.52Z"/>
<path d="M319.78 76.97L335.11 103.52L304.45 103.52Z"/>
<path d="M322.03 76.97L337.36 103.52L306.70 103.52Z"/>
<path d="M324.27 76.97L339.60 103.52L308.94 103.52Z"/>
<path d="M326.52 76.97L341.85 103.52L311.19 103.52Z"/>
<path d="M333.25 76.97L348.58 103.52L317.93 103.52Z"/>
<path d="M295.09 79.22L310.41 105.77L279.76 105.77Z"/>
<path d="M319.78 79.22L335.11 105.77L304.45 105.77Z"/>
<path d="M322.03 79.22L337.36 105.77L306.70 105.77Z"/>
<path d="M297.33 81.46L312.66 108.01L282.00 108.01Z"/>
<path d="M301.82 81.46L317.15 108.01L286.49 108.01Z"/>
<path d="M306.31 81.46L321.64 108.01L290.98 108.01Z"/>
<path d="M317.54 81.46L332.87 108.01L302.21 108.01Z"/>
<path d="M319.78 81.46L335.11 108.01L304.45 108.01Z"/>
<path d="M295.09 83.71L310.41 110.26L279.76 110.26Z"/>
<path d="M299.58 83.71L314.91 110.26L284.25 110.26Z"/>
<path d="M304.07 83.71L319.40 110.26L288.74 110.26Z"/>
<path d="M308.56 83.71L323.89 110.26L293.23 110.26Z"/>
<path d="M315.29 83.71L330.62 110.26L299.96 110.26Z"/>
<path d="M317.54 83.71L332.87 110.26L302.21 110.26Z"/>
<path d="M299.58 85.95L314.91 112.50L284.25 112.50Z"/>
<path d="M304.07 85.95L319.40 112.50L288.74 112.50Z"/>
<path d="M308.56 85.95L323.89 112.50L293.23 112.50Z"/>
<path d="M313.05 85.95L328.38 112.50L297.72 112.50Z"/>
<path d="M315.29 85.95L330.62 112.50L299.96 112.50Z"/>
<path d="M304.07 88.20L319.40 114.75L288.74 114.75Z"/>
<path d="M308.56 88.20L323.89 114.75L293.23 114.75Z"/>
<path d="M310.80 88.20L326.13 114.75L295.47 114.75Z"/>
<path d="M313.05 88.20L328.38 114.75L297.72 114.75Z"/>
<path d="M308.56 90.44L323.89 116.99L293.23 116.99Z"/>
<path d="M310.80 90.44L326.13 116.99L295.47 116.99Z"/>
<path d="M313.05 90.44L328.38 116.99L297.72 116.99Z"/>
<path d="M362.44 81.46L377.77 108.01L347.11 108.01Z"/>
<path d="M366.93 81.46L382.26 108.01L351.60 108.01Z"/>
<path d="M364.69 83.71L380.02 110.26L349.36 110.26Z"/>
<path d="M369.18 83.71L384.51 110.26L353.85 110.26Z"/>
<path d="M366.93 85.95L382.26 112.50L351.60 112.50Z"/>
<path d="M362.44 137.59L377.77 164.14L347.11 164.14Z"/>
<path d="M366.93 137.59L382.26 164.14L351.60 164.14Z"/>
<path d="M362.44 144.33L377.77 170.88L347.11 170.88Z"/>
<path d="M371.42 180.25L386.75 206.80L356.09 206.80Z"/>
<path d="M373.67 180.25L389.00 206.80L358.34 206.80Z"/>
<path d="M371.42 182.50L386.75 209.05L356.09 209.05Z"/>
<path d="M373.67 182.50L389.00 209.05L358.34 209.05Z"/>
</g>
<g class="tr tk">
<path d="M357.95 112.89L373.28 139.44L342.62 139.44Z"/>
<path d="M360.20 110.65L375.53 137.20L344.87 137.20Z"/>
<path d="M362.44 108.40L377.77 134.95L347.11 134.95Z"/>
<path d="M364.69 106.16L380.02 132.71L349.36 132.71Z"/>
<path d="M366.93 103.91L382.26 130.46L351.60 130.46Z"/>
<path d="M369.18 101.67L384.51 128.22L353.85 128.22Z"/>
<path d="M371.42 99.42L386.75 125.97L356.09 125.97Z"/>
</g>
<rect class="ax" x="120.5" y="30.5" width="1449.5" height="1449" stroke-linejoin="round"/>
<path class="ax" d="M171.60 1479.5V1510.5"/>
<path class="ax" d="M120.5 81.20H89.5"/>
<text transform="translate(170.60 1588.6) scale(1 1.07)" text-anchor="middle">0</text>
<text transform="translate(48.8 82.50) rotate(-90) scale(1 1.07)" text-anchor="middle">0</text>
<path class="ax" d="M396.12 1479.5V1510.5"/>
<path class="ax" d="M120.5 305.72H89.5"/>
<text transform="translate(395.12 1588.6) scale(1 1.07)" text-anchor="middle">100</text>
<text transform="translate(48.8 307.02) rotate(-90) scale(1 1.07)" text-anchor="middle">100</text>
<path class="ax" d="M620.64 1479.5V1510.5"/>
<path class="ax" d="M120.5 530.24H89.5"/>
<text transform="translate(619.64 1588.6) scale(1 1.07)" text-anchor="middle">200</text>
<text transform="translate(48.8 531.54) rotate(-90) scale(1 1.07)" text-anchor="middle">200</text>
<path class="ax" d="M845.16 1479.5V1510.5"/>
<path class="ax" d="M120.5 754.76H89.5"/>
<text transform="translate(844.16 1588.6) scale(1 1.07)" text-anchor="middle">300</text>
<text transform="translate(48.8 756.06) rotate(-90) scale(1 1.07)" text-anchor="middle">300</text>
<path class="ax" d="M1069.68 1479.5V1510.5"/>
<path class="ax" d="M120.5 979.28H89.5"/>
<text transform="translate(1068.68 1588.6) scale(1 1.07)" text-anchor="middle">400</text>
<text transform="translate(48.8 980.58) rotate(-90) scale(1 1.07)" text-anchor="middle">400</text>
<path class="ax" d="M1294.20 1479.5V1510.5"/>
<path class="ax" d="M120.5 1203.80H89.5"/>
<text transform="translate(1293.20 1588.6) scale(1 1.07)" text-anchor="middle">500</text>
<text transform="translate(48.8 1205.10) rotate(-90) scale(1 1.07)" text-anchor="middle">500</text>
<path class="ax" d="M1518.72 1479.5V1510.5"/>
<path class="ax" d="M120.5 1428.32H89.5"/>
<text transform="translate(1517.72 1588.6) scale(1 1.07)" text-anchor="middle">600</text>
<text transform="translate(48.8 1429.62) rotate(-90) scale(1 1.07)" text-anchor="middle">600</text>
<g class="tr"><path style="stroke-width:2.2" d="M1202.50 72.88L1217.59 99.01L1187.41 99.01Z"/></g>
<rect x="1191.2" y="138.7" width="22.6" height="22.6" fill="none" stroke="#0000ff" stroke-width="2.2" stroke-linejoin="round"/>
<text transform="translate(1247.3 107.8) scale(1 1.04)">DNCON2-RR</text>
<text transform="translate(1247.5 167.9) scale(1 1.04)">Model-RR</text>
<text transform="translate(201 1451.3) scale(1 1.065)" style="font-size:100px">Top-L/5</text>
</svg></body></html>
